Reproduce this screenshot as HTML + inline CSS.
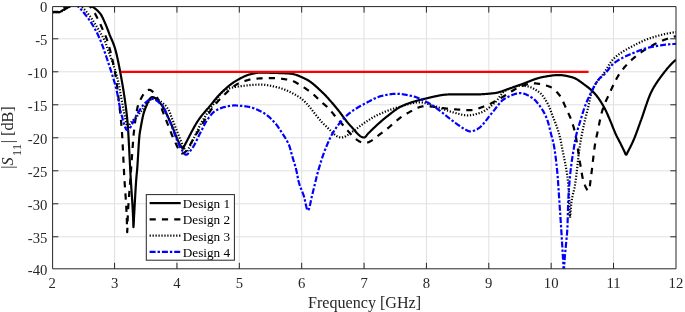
<!DOCTYPE html>
<html><head><meta charset="utf-8"><title>S11</title>
<style>html,body{margin:0;padding:0;background:#fff}body{width:685px;height:312px;overflow:hidden}</style></head>
<body>
<svg width="685" height="312" viewBox="0 0 685 312" style="display:block">
<rect width="685" height="312" fill="#fff"/>
<path d="M114.57,6.6 V268.8 M176.94,6.6 V268.8 M239.31,6.6 V268.8 M301.68,6.6 V268.8 M364.05,6.6 V268.8 M426.42,6.6 V268.8 M488.79,6.6 V268.8 M551.16,6.6 V268.8 M613.53,6.6 V268.8 M52.6,38.79 H676.0 M52.6,71.79 H676.0 M52.6,104.79 H676.0 M52.6,137.79 H676.0 M52.6,170.79 H676.0 M52.6,203.79 H676.0 M52.6,236.79 H676.0" stroke="#e0e0e0" stroke-width="1" fill="none"/>
<defs><clipPath id="c"><rect x="52.6" y="6.6" width="623.4" height="262.2"/></clipPath></defs>
<g clip-path="url(#c)" fill="none" stroke-linejoin="round">
<path d="M52.60,12.17 L53.02,12.08 L53.43,12.01 L53.85,11.96 L54.26,11.91 L54.68,11.88 L55.10,11.86 L55.51,11.85 L55.93,11.85 L56.34,11.84 L56.34,11.84 L56.76,11.87 L57.17,11.95 L57.59,12.04 L58.01,12.14 L58.42,12.21 L58.83,12.24 L58.84,12.24 L59.25,12.19 L59.67,12.07 L60.09,11.89 L60.50,11.66 L60.92,11.39 L61.33,11.12 L61.75,10.84 L62.17,10.57 L62.57,10.34 L62.58,10.33 L63.00,10.11 L63.41,9.89 L63.83,9.66 L64.24,9.44 L64.66,9.21 L65.08,8.98 L65.49,8.75 L65.91,8.53 L66.31,8.30 L66.32,8.30 L66.74,8.07 L67.16,7.85 L67.57,7.62 L67.99,7.40 L68.40,7.17 L68.82,6.94 L69.24,6.72 L69.65,6.49 L70.06,6.27 L70.07,6.27 L70.48,6.03 L70.90,5.77 L71.31,5.51 L71.73,5.25 L72.15,4.99 L72.56,4.76 L72.98,4.55 L73.39,4.37 L73.80,4.24 L73.81,4.24 L74.23,4.13 L74.64,4.02 L75.06,3.91 L75.47,3.81 L75.89,3.71 L76.31,3.62 L76.72,3.52 L77.14,3.43 L77.55,3.35 L77.97,3.27 L78.38,3.19 L78.80,3.12 L79.22,3.05 L79.63,2.99 L80.05,2.93 L80.46,2.88 L80.88,2.83 L81.30,2.79 L81.71,2.75 L82.13,2.72 L82.54,2.70 L82.96,2.68 L83.37,2.67 L83.77,2.67 L83.79,2.67 L84.21,2.68 L84.62,2.73 L85.04,2.81 L85.45,2.91 L85.87,3.04 L86.29,3.19 L86.70,3.36 L87.12,3.55 L87.53,3.76 L87.95,3.98 L88.37,4.21 L88.78,4.45 L89.20,4.71 L89.61,4.97 L90.03,5.23 L90.44,5.50 L90.86,5.76 L91.28,6.03 L91.69,6.29 L92.11,6.55 L92.19,6.60 L92.52,6.81 L92.94,7.07 L93.36,7.34 L93.77,7.62 L94.19,7.91 L94.60,8.21 L95.02,8.51 L95.44,8.84 L95.85,9.17 L96.27,9.51 L96.68,9.87 L97.10,10.25 L97.51,10.63 L97.93,11.04 L98.35,11.46 L98.76,11.90 L99.18,12.36 L99.59,12.84 L100.01,13.33 L100.29,13.68 L100.43,13.85 L100.84,14.44 L101.26,15.11 L101.67,15.84 L102.09,16.62 L102.51,17.46 L102.92,18.33 L103.34,19.23 L103.75,20.16 L104.17,21.10 L104.58,22.04 L105.00,22.98 L105.15,23.32 L105.42,23.91 L105.83,24.89 L106.25,25.90 L106.66,26.94 L107.08,28.00 L107.50,29.08 L107.91,30.18 L108.33,31.27 L108.74,32.37 L109.16,33.45 L109.58,34.53 L109.70,34.85 L109.99,35.57 L110.41,36.58 L110.82,37.56 L111.24,38.52 L111.65,39.48 L112.07,40.45 L112.49,41.43 L112.90,42.44 L113.32,43.49 L113.73,44.58 L114.15,45.74 L114.57,46.98 L114.94,48.16 L114.98,48.29 L115.40,49.72 L115.81,51.24 L116.23,52.87 L116.65,54.59 L117.06,56.39 L117.48,58.27 L117.89,60.22 L118.31,62.23 L118.72,64.30 L119.14,66.41 L119.56,68.56 L119.97,70.74 L120.24,72.15 L120.39,72.94 L120.80,75.17 L121.22,77.43 L121.64,79.73 L122.05,82.07 L122.47,84.47 L122.88,86.94 L123.30,89.48 L123.72,92.10 L124.13,94.81 L124.55,97.61 L124.96,100.53 L125.38,103.56 L125.79,106.71 L126.21,109.99 L126.63,113.41 L126.78,114.76 L127.04,117.09 L127.46,121.44 L127.72,124.59 L127.87,126.63 L128.29,132.93 L128.71,140.14 L129.12,147.96 L129.54,156.12 L129.95,164.30 L130.37,172.22 L130.71,178.34 L130.78,179.58 L131.20,186.13 L131.62,192.20 L132.03,198.29 L132.45,204.87 L132.86,212.45 L133.14,218.33 L133.28,222.94 L133.45,227.24 L133.70,224.06 L133.95,218.33 L134.11,215.53 L134.53,207.98 L134.94,200.36 L135.36,192.97 L135.78,186.10 L136.19,180.04 L136.32,178.34 L136.61,175.20 L137.02,171.07 L137.13,169.82 L137.44,165.75 L137.85,159.24 L138.27,152.21 L138.69,145.36 L139.10,139.37 L139.50,135.08 L139.52,134.94 L139.93,132.00 L140.31,129.83 L140.35,129.62 L140.77,127.30 L141.18,125.00 L141.60,122.76 L142.01,120.59 L142.43,118.52 L142.85,116.59 L143.26,114.80 L143.68,113.19 L144.09,111.79 L144.43,110.82 L144.51,110.61 L144.92,109.51 L145.34,108.42 L145.76,107.35 L146.17,106.30 L146.59,105.28 L147.00,104.29 L147.42,103.34 L147.84,102.43 L148.25,101.58 L148.67,100.78 L149.08,100.04 L149.50,99.38 L149.92,98.78 L150.33,98.26 L150.75,97.83 L151.16,97.49 L151.58,97.24 L151.99,97.10 L152.34,97.06 L152.41,97.06 L152.83,97.09 L153.24,97.18 L153.66,97.31 L154.07,97.48 L154.49,97.69 L154.91,97.95 L155.32,98.23 L155.74,98.55 L156.15,98.90 L156.57,99.28 L156.99,99.68 L157.40,100.10 L157.82,100.54 L158.23,100.99 L158.65,101.45 L159.06,101.93 L159.48,102.41 L159.90,102.90 L160.31,103.39 L160.73,103.87 L161.07,104.27 L161.14,104.35 L161.56,104.87 L161.98,105.43 L162.39,106.04 L162.81,106.70 L163.22,107.39 L163.64,108.12 L164.06,108.88 L164.47,109.67 L164.89,110.48 L165.30,111.32 L165.72,112.17 L166.13,113.04 L166.55,113.92 L166.97,114.81 L167.38,115.70 L167.80,116.59 L168.21,117.47 L168.63,118.35 L169.05,119.22 L169.43,120.00 L169.46,120.08 L169.88,120.94 L170.29,121.85 L170.71,122.78 L171.13,123.74 L171.54,124.73 L171.96,125.74 L172.37,126.76 L172.79,127.80 L173.20,128.85 L173.62,129.91 L174.04,130.97 L174.45,132.03 L174.87,133.09 L175.28,134.15 L175.70,135.19 L176.12,136.23 L176.53,137.25 L176.95,138.25 L177.36,139.22 L177.78,140.17 L178.19,141.10 L178.61,141.99 L179.03,142.84 L179.44,143.66 L179.86,144.44 L180.27,145.16 L180.69,145.85 L181.11,146.47 L181.39,146.88 L181.52,147.05 L181.94,147.67 L182.35,148.20 L182.77,148.50 L182.89,148.52 L183.19,148.29 L183.60,147.45 L184.02,146.46 L184.14,146.22 L184.43,145.68 L184.85,144.90 L185.26,144.12 L185.68,143.33 L186.10,142.54 L186.51,141.74 L186.93,140.94 L187.34,140.13 L187.76,139.33 L188.18,138.52 L188.59,137.70 L189.01,136.89 L189.42,136.08 L189.84,135.27 L190.26,134.46 L190.67,133.65 L191.09,132.85 L191.50,132.05 L191.92,131.26 L192.33,130.47 L192.75,129.69 L193.17,128.91 L193.58,128.15 L194.00,127.39 L194.41,126.64 L194.83,125.90 L195.25,125.18 L195.66,124.46 L196.08,123.76 L196.49,123.07 L196.91,122.40 L197.33,121.74 L197.74,121.10 L198.16,120.47 L198.48,120.00 L198.57,119.86 L198.99,119.26 L199.40,118.68 L199.82,118.11 L200.24,117.55 L200.65,117.00 L201.07,116.46 L201.48,115.93 L201.90,115.41 L202.32,114.89 L202.73,114.38 L203.15,113.88 L203.56,113.39 L203.98,112.90 L204.40,112.41 L204.81,111.93 L205.23,111.44 L205.64,110.97 L206.06,110.49 L206.47,110.01 L206.89,109.54 L207.31,109.06 L207.72,108.58 L208.14,108.11 L208.55,107.62 L208.97,107.14 L209.39,106.65 L209.80,106.16 L210.01,105.91 L210.22,105.66 L210.63,105.15 L211.05,104.65 L211.47,104.13 L211.88,103.62 L212.30,103.11 L212.71,102.59 L213.13,102.07 L213.54,101.55 L213.96,101.04 L214.38,100.52 L214.79,100.01 L215.21,99.50 L215.62,99.00 L216.04,98.49 L216.46,98.00 L216.87,97.51 L217.29,97.02 L217.70,96.55 L218.12,96.08 L218.54,95.62 L218.95,95.17 L219.37,94.73 L219.78,94.30 L220.20,93.88 L220.29,93.78 L220.61,93.47 L221.03,93.06 L221.45,92.65 L221.86,92.25 L222.28,91.85 L222.69,91.45 L223.11,91.05 L223.53,90.66 L223.94,90.27 L224.36,89.88 L224.77,89.50 L225.19,89.12 L225.60,88.74 L226.02,88.36 L226.44,87.99 L226.85,87.63 L227.27,87.27 L227.68,86.91 L228.10,86.56 L228.52,86.21 L228.93,85.86 L229.35,85.52 L229.76,85.19 L230.18,84.86 L230.60,84.54 L231.01,84.22 L231.43,83.91 L231.84,83.60 L232.26,83.30 L232.67,83.01 L233.09,82.72 L233.51,82.44 L233.92,82.16 L234.34,81.89 L234.75,81.63 L235.17,81.38 L235.26,81.33 L235.59,81.13 L236.00,80.88 L236.42,80.63 L236.83,80.39 L237.25,80.14 L237.67,79.90 L238.08,79.66 L238.50,79.42 L238.91,79.18 L239.33,78.95 L239.74,78.72 L240.16,78.49 L240.58,78.26 L240.99,78.04 L241.41,77.82 L241.82,77.61 L242.24,77.39 L242.66,77.19 L243.07,76.98 L243.49,76.78 L243.90,76.59 L244.32,76.40 L244.74,76.21 L245.15,76.03 L245.57,75.86 L245.98,75.69 L246.40,75.52 L246.81,75.37 L247.23,75.21 L247.65,75.07 L248.06,74.93 L248.48,74.79 L248.89,74.67 L249.31,74.55 L249.73,74.44 L250.14,74.33 L250.22,74.31 L250.56,74.23 L250.97,74.13 L251.39,74.03 L251.81,73.93 L252.22,73.83 L252.64,73.73 L253.05,73.64 L253.47,73.54 L253.88,73.45 L254.30,73.36 L254.72,73.27 L255.13,73.19 L255.55,73.10 L255.96,73.03 L256.38,72.96 L256.80,72.89 L257.21,72.82 L257.63,72.77 L258.04,72.71 L258.46,72.67 L258.88,72.63 L259.29,72.60 L259.71,72.57 L260.12,72.55 L260.54,72.55 L260.82,72.54 L260.95,72.54 L261.37,72.54 L261.79,72.55 L262.20,72.55 L262.62,72.56 L263.03,72.56 L263.45,72.57 L263.87,72.58 L264.28,72.59 L264.70,72.60 L265.11,72.61 L265.53,72.63 L265.95,72.64 L266.36,72.65 L266.78,72.67 L267.19,72.68 L267.61,72.70 L268.02,72.71 L268.44,72.73 L268.86,72.74 L269.27,72.75 L269.69,72.77 L270.10,72.78 L270.52,72.80 L270.79,72.81 L270.94,72.81 L271.35,72.82 L271.77,72.84 L272.18,72.85 L272.60,72.86 L273.01,72.87 L273.43,72.88 L273.85,72.90 L274.26,72.91 L274.68,72.92 L275.09,72.93 L275.51,72.94 L275.93,72.95 L276.34,72.97 L276.76,72.98 L277.17,72.99 L277.59,73.00 L278.01,73.02 L278.42,73.03 L278.84,73.04 L279.25,73.06 L279.67,73.07 L280.08,73.08 L280.50,73.10 L280.92,73.11 L281.33,73.13 L281.75,73.14 L282.16,73.16 L282.58,73.18 L283.00,73.19 L283.41,73.21 L283.83,73.23 L284.24,73.25 L284.66,73.27 L285.08,73.29 L285.49,73.31 L285.91,73.33 L286.32,73.35 L286.74,73.38 L287.15,73.40 L287.57,73.43 L287.99,73.45 L288.40,73.48 L288.82,73.51 L289.23,73.54 L289.65,73.57 L289.99,73.59 L290.07,73.60 L290.48,73.64 L290.90,73.68 L291.31,73.74 L291.73,73.80 L292.15,73.87 L292.56,73.95 L292.98,74.03 L293.39,74.12 L293.81,74.22 L294.22,74.33 L294.64,74.44 L295.06,74.56 L295.47,74.69 L295.89,74.82 L296.30,74.96 L296.72,75.10 L297.14,75.25 L297.55,75.40 L297.97,75.56 L298.38,75.72 L298.80,75.88 L299.22,76.05 L299.63,76.23 L300.05,76.40 L300.46,76.58 L300.88,76.77 L301.29,76.95 L301.71,77.14 L302.13,77.34 L302.54,77.53 L302.96,77.72 L303.37,77.92 L303.79,78.12 L304.21,78.32 L304.62,78.52 L305.04,78.72 L305.45,78.93 L305.87,79.13 L306.07,79.23 L306.29,79.33 L306.70,79.55 L307.12,79.77 L307.53,80.00 L307.95,80.25 L308.36,80.50 L308.78,80.76 L309.20,81.03 L309.61,81.31 L310.03,81.60 L310.44,81.89 L310.86,82.20 L311.28,82.50 L311.69,82.82 L312.11,83.14 L312.52,83.47 L312.94,83.81 L313.36,84.15 L313.77,84.50 L314.19,84.85 L314.60,85.20 L315.02,85.56 L315.43,85.93 L315.85,86.30 L316.27,86.67 L316.68,87.04 L317.10,87.42 L317.51,87.80 L317.93,88.18 L318.35,88.57 L318.76,88.95 L319.18,89.34 L319.59,89.73 L320.01,90.12 L320.42,90.51 L320.84,90.90 L321.26,91.29 L321.67,91.68 L322.09,92.07 L322.10,92.08 L322.50,92.46 L322.92,92.86 L323.34,93.26 L323.75,93.67 L324.17,94.09 L324.58,94.51 L325.00,94.94 L325.42,95.37 L325.83,95.81 L326.25,96.25 L326.66,96.70 L327.08,97.15 L327.49,97.61 L327.91,98.06 L328.33,98.53 L328.74,98.99 L329.16,99.46 L329.57,99.94 L329.99,100.41 L330.41,100.89 L330.82,101.37 L331.24,101.85 L331.65,102.34 L332.07,102.83 L332.49,103.31 L332.90,103.80 L333.32,104.29 L333.73,104.79 L334.15,105.28 L334.56,105.77 L334.98,106.27 L335.40,106.76 L335.81,107.25 L336.23,107.75 L336.56,108.14 L336.64,108.24 L337.06,108.74 L337.48,109.25 L337.89,109.76 L338.31,110.29 L338.72,110.82 L339.14,111.36 L339.56,111.90 L339.97,112.45 L340.39,113.00 L340.80,113.56 L341.22,114.11 L341.63,114.68 L342.05,115.24 L342.47,115.80 L342.88,116.36 L343.30,116.92 L343.71,117.49 L344.13,118.04 L344.55,118.60 L344.96,119.15 L345.38,119.70 L345.79,120.24 L346.21,120.78 L346.63,121.31 L347.04,121.83 L347.46,122.35 L347.87,122.85 L348.29,123.35 L348.70,123.84 L349.12,124.32 L349.54,124.78 L349.95,125.24 L350.37,125.68 L350.59,125.90 L350.78,126.11 L351.20,126.55 L351.62,127.00 L352.03,127.46 L352.45,127.93 L352.86,128.40 L353.28,128.88 L353.70,129.37 L354.11,129.85 L354.53,130.34 L354.94,130.82 L355.36,131.30 L355.77,131.77 L356.19,132.24 L356.61,132.70 L357.02,133.14 L357.44,133.58 L357.85,134.00 L358.27,134.41 L358.69,134.79 L359.10,135.16 L359.52,135.51 L359.93,135.84 L360.35,136.14 L360.77,136.42 L361.18,136.67 L361.60,136.89 L362.01,137.08 L362.43,137.23 L362.84,137.36 L363.26,137.44 L363.68,137.49 L363.99,137.50 L364.09,137.50 L364.51,137.40 L364.92,137.17 L365.34,136.84 L365.76,136.43 L366.17,135.96 L366.59,135.45 L367.00,134.92 L367.42,134.39 L367.83,133.88 L368.25,133.41 L368.54,133.11 L368.67,132.99 L369.08,132.59 L369.50,132.19 L369.91,131.78 L370.33,131.38 L370.75,130.98 L371.16,130.57 L371.58,130.17 L371.99,129.76 L372.41,129.36 L372.83,128.96 L373.24,128.56 L373.66,128.16 L374.07,127.76 L374.49,127.37 L374.90,126.97 L375.32,126.58 L375.74,126.19 L376.15,125.81 L376.57,125.43 L376.77,125.25 L376.98,125.05 L377.40,124.67 L377.82,124.29 L378.23,123.92 L378.65,123.54 L379.06,123.17 L379.48,122.80 L379.90,122.42 L380.31,122.05 L380.73,121.69 L381.14,121.32 L381.56,120.96 L381.97,120.59 L382.39,120.23 L382.81,119.88 L383.22,119.53 L383.64,119.18 L384.05,118.83 L384.47,118.49 L384.89,118.15 L385.30,117.81 L385.72,117.48 L386.13,117.15 L386.18,117.12 L386.55,116.83 L386.97,116.50 L387.38,116.18 L387.80,115.85 L388.21,115.52 L388.63,115.19 L389.04,114.86 L389.46,114.53 L389.88,114.20 L390.29,113.87 L390.71,113.54 L391.12,113.21 L391.54,112.89 L391.96,112.57 L392.37,112.24 L392.79,111.92 L393.20,111.61 L393.62,111.29 L394.04,110.98 L394.45,110.68 L394.87,110.37 L395.28,110.07 L395.70,109.78 L396.11,109.49 L396.53,109.20 L396.95,108.92 L397.36,108.64 L397.78,108.38 L398.19,108.11 L398.61,107.85 L399.03,107.60 L399.44,107.36 L399.86,107.12 L400.27,106.89 L400.69,106.67 L401.11,106.46 L401.52,106.25 L401.94,106.06 L402.27,105.91 L402.35,105.87 L402.77,105.69 L403.18,105.50 L403.60,105.33 L404.02,105.15 L404.43,104.98 L404.85,104.80 L405.26,104.64 L405.68,104.47 L406.10,104.30 L406.51,104.14 L406.93,103.98 L407.34,103.82 L407.76,103.67 L408.18,103.52 L408.59,103.36 L409.01,103.21 L409.42,103.07 L409.84,102.92 L410.25,102.78 L410.67,102.64 L411.09,102.50 L411.50,102.36 L411.92,102.22 L412.33,102.09 L412.75,101.96 L413.17,101.83 L413.58,101.70 L414.00,101.57 L414.41,101.44 L414.83,101.32 L415.24,101.20 L415.66,101.08 L416.08,100.96 L416.49,100.84 L416.91,100.72 L417.32,100.61 L417.74,100.50 L418.16,100.38 L418.57,100.27 L418.99,100.16 L419.40,100.06 L419.82,99.95 L420.24,99.84 L420.65,99.74 L421.07,99.64 L421.48,99.53 L421.90,99.43 L422.31,99.33 L422.73,99.23 L423.15,99.14 L423.56,99.04 L423.98,98.94 L424.39,98.85 L424.77,98.76 L424.81,98.75 L425.23,98.66 L425.64,98.56 L426.06,98.47 L426.47,98.37 L426.89,98.27 L427.31,98.18 L427.72,98.08 L428.14,97.98 L428.55,97.88 L428.97,97.78 L429.38,97.68 L429.80,97.58 L430.22,97.48 L430.63,97.38 L431.05,97.29 L431.46,97.19 L431.88,97.09 L432.30,96.99 L432.71,96.89 L433.13,96.80 L433.54,96.70 L433.96,96.61 L434.38,96.51 L434.79,96.42 L435.21,96.33 L435.62,96.24 L436.04,96.15 L436.45,96.06 L436.87,95.97 L437.29,95.89 L437.70,95.80 L438.12,95.72 L438.53,95.64 L438.95,95.56 L439.37,95.49 L439.78,95.41 L440.20,95.34 L440.61,95.27 L441.03,95.20 L441.45,95.13 L441.86,95.07 L442.28,95.01 L442.69,94.95 L443.11,94.90 L443.52,94.84 L443.94,94.79 L444.36,94.75 L444.77,94.70 L445.19,94.66 L445.60,94.62 L446.02,94.59 L446.44,94.56 L446.85,94.53 L447.27,94.50 L447.68,94.48 L448.10,94.47 L448.52,94.45 L448.93,94.44 L449.35,94.44 L449.71,94.44 L449.76,94.44 L450.18,94.44 L450.59,94.44 L451.01,94.44 L451.43,94.44 L451.84,94.44 L452.26,94.44 L452.67,94.44 L453.09,94.44 L453.51,94.44 L453.92,94.44 L454.34,94.44 L454.75,94.44 L455.17,94.44 L455.59,94.44 L456.00,94.44 L456.42,94.44 L456.83,94.44 L457.25,94.44 L457.66,94.44 L458.08,94.44 L458.50,94.44 L458.91,94.44 L459.33,94.44 L459.74,94.44 L460.16,94.44 L460.58,94.44 L460.99,94.44 L461.41,94.44 L461.82,94.44 L462.24,94.44 L462.65,94.44 L463.07,94.44 L463.49,94.44 L463.90,94.44 L464.32,94.44 L464.73,94.44 L465.15,94.44 L465.57,94.44 L465.98,94.44 L466.40,94.44 L466.81,94.44 L467.23,94.44 L467.65,94.44 L468.06,94.44 L468.48,94.44 L468.89,94.44 L469.31,94.44 L469.72,94.44 L470.14,94.44 L470.56,94.44 L470.97,94.44 L471.39,94.44 L471.80,94.44 L472.22,94.44 L472.64,94.44 L473.05,94.44 L473.47,94.44 L473.88,94.44 L474.30,94.44 L474.64,94.44 L474.72,94.44 L475.13,94.44 L475.55,94.43 L475.96,94.43 L476.38,94.42 L476.79,94.42 L477.21,94.41 L477.63,94.40 L478.04,94.39 L478.46,94.38 L478.87,94.36 L479.29,94.35 L479.71,94.33 L480.12,94.32 L480.54,94.30 L480.95,94.28 L481.37,94.26 L481.79,94.24 L482.20,94.21 L482.62,94.19 L483.03,94.16 L483.45,94.14 L483.86,94.11 L484.28,94.08 L484.70,94.05 L485.11,94.02 L485.53,93.99 L485.94,93.96 L486.36,93.93 L486.78,93.89 L487.19,93.86 L487.61,93.82 L488.02,93.79 L488.44,93.75 L488.86,93.71 L489.27,93.68 L489.69,93.64 L490.10,93.60 L490.52,93.56 L490.93,93.51 L491.35,93.47 L491.77,93.43 L492.18,93.39 L492.60,93.34 L493.01,93.30 L493.43,93.25 L493.85,93.21 L494.26,93.16 L494.59,93.13 L494.68,93.12 L495.09,93.06 L495.51,93.00 L495.93,92.93 L496.34,92.86 L496.76,92.78 L497.17,92.69 L497.59,92.59 L498.00,92.49 L498.42,92.38 L498.84,92.27 L499.25,92.15 L499.67,92.03 L500.08,91.90 L500.50,91.77 L500.92,91.63 L501.33,91.49 L501.75,91.35 L502.16,91.20 L502.58,91.06 L503.00,90.91 L503.41,90.76 L503.83,90.60 L504.24,90.45 L504.66,90.30 L505.07,90.14 L505.49,89.99 L505.91,89.83 L506.32,89.68 L506.74,89.52 L507.15,89.37 L507.57,89.22 L507.99,89.07 L508.40,88.93 L508.82,88.78 L509.23,88.64 L509.55,88.54 L509.65,88.51 L510.06,88.37 L510.48,88.23 L510.90,88.09 L511.31,87.95 L511.73,87.81 L512.14,87.66 L512.56,87.52 L512.98,87.37 L513.39,87.23 L513.81,87.08 L514.22,86.93 L514.64,86.79 L515.06,86.64 L515.47,86.49 L515.89,86.34 L516.30,86.19 L516.72,86.04 L517.13,85.89 L517.55,85.75 L517.97,85.60 L518.38,85.45 L518.80,85.30 L519.21,85.15 L519.63,85.01 L520.05,84.86 L520.46,84.71 L520.77,84.60 L520.88,84.57 L521.29,84.42 L521.71,84.27 L522.13,84.12 L522.54,83.97 L522.96,83.81 L523.37,83.66 L523.79,83.50 L524.20,83.34 L524.62,83.18 L525.04,83.01 L525.45,82.85 L525.87,82.68 L526.28,82.52 L526.70,82.35 L527.12,82.19 L527.53,82.02 L527.95,81.85 L528.36,81.69 L528.78,81.52 L529.20,81.36 L529.61,81.19 L530.03,81.02 L530.44,80.86 L530.86,80.70 L531.27,80.53 L531.69,80.37 L532.11,80.21 L532.52,80.05 L532.94,79.90 L533.35,79.74 L533.77,79.59 L534.19,79.44 L534.60,79.29 L535.02,79.14 L535.43,79.00 L535.85,78.86 L536.27,78.72 L536.68,78.58 L537.10,78.45 L537.51,78.32 L537.93,78.20 L538.34,78.08 L538.76,77.96 L539.18,77.84 L539.59,77.73 L540.01,77.63 L540.42,77.52 L540.84,77.43 L541.26,77.33 L541.67,77.24 L542.09,77.16 L542.50,77.08 L542.59,77.07 L542.92,77.01 L543.34,76.93 L543.75,76.86 L544.17,76.78 L544.58,76.71 L545.00,76.63 L545.41,76.56 L545.83,76.48 L546.25,76.41 L546.66,76.34 L547.08,76.26 L547.49,76.19 L547.91,76.12 L548.33,76.05 L548.74,75.98 L549.16,75.92 L549.57,75.85 L549.99,75.79 L550.41,75.73 L550.82,75.67 L551.24,75.61 L551.65,75.55 L552.07,75.50 L552.48,75.45 L552.90,75.40 L553.32,75.35 L553.73,75.31 L554.15,75.27 L554.56,75.23 L554.98,75.20 L555.40,75.16 L555.81,75.14 L556.23,75.11 L556.64,75.09 L557.06,75.07 L557.47,75.05 L557.89,75.04 L558.31,75.04 L558.72,75.03 L558.80,75.03 L559.14,75.04 L559.55,75.04 L559.97,75.06 L560.39,75.08 L560.80,75.10 L561.22,75.13 L561.63,75.17 L562.05,75.21 L562.47,75.25 L562.88,75.31 L563.30,75.36 L563.71,75.42 L564.13,75.48 L564.54,75.55 L564.96,75.62 L565.38,75.70 L565.79,75.77 L566.21,75.86 L566.62,75.94 L567.04,76.03 L567.46,76.12 L567.87,76.21 L568.29,76.31 L568.70,76.41 L569.12,76.51 L569.54,76.61 L569.95,76.72 L570.37,76.82 L570.78,76.93 L571.20,77.04 L571.61,77.15 L572.03,77.26 L572.45,77.38 L572.52,77.39 L572.86,77.49 L573.28,77.63 L573.69,77.78 L574.11,77.94 L574.53,78.11 L574.94,78.30 L575.36,78.50 L575.77,78.72 L576.19,78.94 L576.61,79.17 L577.02,79.42 L577.44,79.67 L577.85,79.93 L578.27,80.20 L578.68,80.48 L579.10,80.76 L579.52,81.05 L579.93,81.34 L580.35,81.64 L580.76,81.94 L581.18,82.24 L581.60,82.55 L582.01,82.86 L582.43,83.17 L582.84,83.48 L583.26,83.79 L583.68,84.10 L584.09,84.41 L584.51,84.71 L584.92,85.02 L584.98,85.06 L585.34,85.32 L585.75,85.63 L586.17,85.94 L586.59,86.25 L587.00,86.56 L587.42,86.88 L587.83,87.20 L588.25,87.53 L588.67,87.87 L589.08,88.20 L589.50,88.55 L589.91,88.90 L590.33,89.26 L590.75,89.62 L591.16,89.99 L591.58,90.37 L591.99,90.76 L592.41,91.15 L592.82,91.56 L593.24,91.97 L593.66,92.39 L594.07,92.82 L594.49,93.27 L594.90,93.72 L594.96,93.78 L595.32,94.19 L595.74,94.67 L596.15,95.17 L596.57,95.68 L596.98,96.21 L597.40,96.76 L597.82,97.32 L598.23,97.89 L598.65,98.48 L599.06,99.08 L599.48,99.70 L599.89,100.33 L600.31,100.97 L600.73,101.62 L601.14,102.29 L601.56,102.96 L601.97,103.65 L602.39,104.35 L602.81,105.06 L603.22,105.78 L603.64,106.52 L604.05,107.26 L604.47,108.01 L604.88,108.77 L604.93,108.86 L605.30,109.56 L605.72,110.38 L606.13,111.25 L606.55,112.15 L606.96,113.08 L607.38,114.03 L607.80,114.99 L608.21,115.97 L608.63,116.96 L609.04,117.94 L609.46,118.93 L609.88,119.90 L609.92,120.00 L610.29,120.87 L610.71,121.87 L611.12,122.89 L611.54,123.92 L611.95,124.96 L612.37,126.01 L612.79,127.06 L613.20,128.11 L613.62,129.15 L614.03,130.18 L614.45,131.19 L614.87,132.18 L615.28,133.15 L615.70,134.09 L616.11,134.99 L616.15,135.08 L616.53,135.86 L616.95,136.70 L617.36,137.50 L617.78,138.29 L618.19,139.07 L618.61,139.84 L619.02,140.62 L619.44,141.41 L619.86,142.21 L619.89,142.29 L620.27,143.04 L620.69,143.88 L621.10,144.72 L621.52,145.57 L621.94,146.43 L622.35,147.28 L622.77,148.14 L623.18,148.98 L623.60,149.83 L624.02,150.66 L624.26,151.14 L624.43,151.51 L624.85,152.53 L625.26,153.57 L625.68,154.38 L626.09,154.74 L626.13,154.74 L626.51,154.50 L626.93,153.82 L627.34,152.91 L627.76,151.95 L628.00,151.47 L628.17,151.14 L628.59,150.36 L629.01,149.57 L629.42,148.77 L629.84,147.96 L630.25,147.14 L630.67,146.31 L631.09,145.46 L631.50,144.60 L631.92,143.73 L632.33,142.84 L632.75,141.93 L633.16,141.01 L633.58,140.06 L633.61,139.99 L634.00,139.09 L634.41,138.09 L634.83,137.06 L635.24,136.01 L635.66,134.93 L636.08,133.83 L636.49,132.72 L636.91,131.59 L637.32,130.45 L637.74,129.30 L638.16,128.15 L638.57,126.99 L638.99,125.82 L639.40,124.66 L639.82,123.50 L640.23,122.35 L640.65,121.20 L641.07,120.06 L641.09,120.00 L641.48,118.92 L641.90,117.76 L642.31,116.57 L642.73,115.37 L643.15,114.15 L643.56,112.92 L643.98,111.68 L644.39,110.43 L644.81,109.19 L645.23,107.94 L645.64,106.70 L646.06,105.47 L646.47,104.25 L646.89,103.04 L647.30,101.86 L647.72,100.69 L648.14,99.55 L648.55,98.43 L648.97,97.35 L649.38,96.30 L649.80,95.28 L650.22,94.31 L650.63,93.39 L651.05,92.50 L651.06,92.47 L651.46,91.66 L651.88,90.84 L652.29,90.04 L652.71,89.27 L653.13,88.51 L653.54,87.77 L653.96,87.05 L654.37,86.35 L654.79,85.66 L655.21,84.99 L655.62,84.33 L656.04,83.68 L656.45,83.05 L656.87,82.43 L657.29,81.82 L657.70,81.21 L658.12,80.62 L658.53,80.03 L658.54,80.02 L658.95,79.45 L659.36,78.87 L659.78,78.29 L660.20,77.72 L660.61,77.15 L661.03,76.58 L661.44,76.02 L661.86,75.46 L662.28,74.90 L662.69,74.35 L663.11,73.80 L663.52,73.26 L663.94,72.72 L664.36,72.18 L664.77,71.65 L665.19,71.12 L665.60,70.60 L666.02,70.09 L666.43,69.58 L666.85,69.07 L667.27,68.58 L667.68,68.08 L668.10,67.60 L668.51,67.12 L668.93,66.64 L669.35,66.17 L669.76,65.71 L670.18,65.26 L670.59,64.81 L671.01,64.37 L671.43,63.94 L671.84,63.51 L672.26,63.09 L672.67,62.68 L673.09,62.28 L673.50,61.88 L673.92,61.50 L674.34,61.12 L674.75,60.75 L675.17,60.39 L675.58,60.04 L676.00,59.70" stroke="#000" stroke-width="2.2"/>
<path d="M52.60,12.17 L53.02,12.17 L53.43,12.17 L53.85,12.17 L54.26,12.17 L54.68,12.17 L55.10,12.17 L55.51,12.17 L55.93,12.17 L56.34,12.17 L56.76,12.17 L56.96,12.17 L57.17,12.16 L57.59,12.06 L58.01,11.87 L58.42,11.62 L58.84,11.31 L59.25,10.96 L59.67,10.59 L60.09,10.22 L60.50,9.85 L60.92,9.52 L61.33,9.22 L61.33,9.22 L61.75,8.95 L62.17,8.68 L62.58,8.41 L63.00,8.14 L63.41,7.87 L63.83,7.61 L64.24,7.35 L64.66,7.09 L65.08,6.83 L65.49,6.58 L65.91,6.33 L66.00,6.27 L66.32,6.08 L66.74,5.81 L67.16,5.52 L67.57,5.23 L67.99,4.94 L68.40,4.66 L68.82,4.39 L69.24,4.13 L69.65,3.90 L70.07,3.70 L70.48,3.53 L70.90,3.40 L71.30,3.32 L71.31,3.32 L71.73,3.27 L72.15,3.21 L72.56,3.16 L72.98,3.12 L73.39,3.07 L73.81,3.03 L74.23,2.99 L74.64,2.95 L75.06,2.91 L75.47,2.88 L75.89,2.84 L76.31,2.82 L76.72,2.79 L77.14,2.76 L77.55,2.74 L77.97,2.72 L78.38,2.71 L78.80,2.69 L79.22,2.68 L79.63,2.68 L80.05,2.67 L80.46,2.67 L80.65,2.67 L80.88,2.67 L81.30,2.69 L81.71,2.73 L82.13,2.80 L82.54,2.88 L82.96,2.98 L83.37,3.09 L83.79,3.23 L84.21,3.37 L84.62,3.54 L85.04,3.71 L85.45,3.90 L85.87,4.10 L86.29,4.32 L86.70,4.54 L87.12,4.77 L87.53,5.02 L87.95,5.27 L88.37,5.53 L88.78,5.79 L89.20,6.06 L89.61,6.34 L90.00,6.60 L90.03,6.62 L90.44,6.94 L90.86,7.32 L91.28,7.76 L91.69,8.25 L92.11,8.79 L92.52,9.38 L92.94,10.01 L93.36,10.67 L93.77,11.37 L94.19,12.09 L94.60,12.83 L95.02,13.59 L95.44,14.37 L95.85,15.15 L96.27,15.94 L96.68,16.73 L97.10,17.52 L97.51,18.29 L97.61,18.46 L97.93,19.07 L98.35,19.88 L98.76,20.72 L99.18,21.60 L99.59,22.50 L100.01,23.42 L100.43,24.35 L100.84,25.30 L101.26,26.26 L101.67,27.22 L102.09,28.18 L102.51,29.14 L102.91,30.07 L102.92,30.10 L103.34,31.03 L103.75,31.95 L104.17,32.86 L104.58,33.77 L105.00,34.71 L105.42,35.67 L105.83,36.68 L106.25,37.75 L106.66,38.88 L106.84,39.38 L107.08,40.09 L107.50,41.34 L107.91,42.63 L108.33,43.96 L108.74,45.34 L109.16,46.77 L109.58,48.24 L109.99,49.76 L110.41,51.33 L110.82,52.95 L111.24,54.63 L111.65,56.36 L112.07,58.15 L112.49,59.99 L112.90,61.90 L113.32,63.87 L113.73,65.90 L114.15,67.99 L114.57,70.15 L114.94,72.15 L114.98,72.38 L115.40,74.77 L115.81,77.38 L116.23,80.18 L116.65,83.16 L117.06,86.29 L117.48,89.55 L117.89,92.92 L118.31,96.39 L118.72,99.92 L119.14,103.51 L119.30,104.92 L119.56,107.11 L119.97,110.73 L120.39,114.48 L120.80,118.49 L121.22,122.88 L121.64,127.77 L121.80,129.83 L122.05,133.48 L122.47,140.60 L122.88,148.74 L123.30,157.38 L123.72,166.01 L124.13,174.14 L124.29,177.03 L124.55,181.27 L124.96,187.43 L125.38,193.19 L125.79,199.15 L126.21,205.91 L126.63,214.07 L126.78,217.67 L127.04,227.83 L127.22,232.09 L127.46,226.66 L127.72,217.67 L127.87,214.55 L128.29,207.06 L128.71,200.66 L129.12,195.02 L129.54,189.78 L129.95,184.63 L130.37,179.20 L130.53,177.03 L130.78,173.33 L131.20,167.42 L131.62,161.56 L132.03,155.77 L132.40,150.81 L132.45,150.08 L132.86,144.12 L133.28,138.40 L133.64,134.42 L133.70,133.93 L134.11,130.25 L134.53,126.73 L134.94,123.37 L135.36,120.19 L135.78,117.22 L136.19,114.47 L136.61,111.95 L137.02,109.68 L137.44,107.69 L137.85,105.98 L138.27,104.57 L138.63,103.61 L138.69,103.48 L139.10,102.53 L139.52,101.60 L139.93,100.70 L140.35,99.83 L140.77,98.99 L141.18,98.18 L141.60,97.40 L142.01,96.65 L142.43,95.93 L142.85,95.25 L143.26,94.61 L143.68,94.00 L144.09,93.42 L144.51,92.89 L144.92,92.40 L145.34,91.94 L145.76,91.53 L146.17,91.16 L146.59,90.83 L147.00,90.55 L147.42,90.32 L147.84,90.13 L148.25,89.99 L148.67,89.89 L149.08,89.85 L149.23,89.85 L149.50,89.86 L149.92,89.94 L150.33,90.08 L150.75,90.27 L151.16,90.51 L151.58,90.79 L151.99,91.11 L152.41,91.45 L152.83,91.82 L153.24,92.20 L153.66,92.59 L154.07,92.99 L154.21,93.13 L154.49,93.41 L154.91,93.89 L155.32,94.44 L155.74,95.06 L156.15,95.74 L156.57,96.48 L156.99,97.27 L157.40,98.11 L157.82,98.99 L158.23,99.92 L158.65,100.88 L159.06,101.88 L159.48,102.90 L159.90,103.95 L160.31,105.02 L160.73,106.10 L161.14,107.20 L161.56,108.30 L161.98,109.41 L162.39,110.51 L162.81,111.61 L163.22,112.71 L163.64,113.79 L164.06,114.85 L164.47,115.89 L164.81,116.72 L164.89,116.91 L165.30,117.93 L165.72,118.99 L166.13,120.07 L166.55,121.16 L166.97,122.26 L167.38,123.37 L167.80,124.48 L168.21,125.59 L168.63,126.68 L169.05,127.75 L169.46,128.80 L169.61,129.18 L169.88,129.84 L170.29,130.87 L170.71,131.92 L171.13,132.96 L171.54,133.99 L171.96,135.01 L172.37,136.02 L172.79,137.00 L173.20,137.96 L173.62,138.88 L174.04,139.76 L174.45,140.61 L174.47,140.65 L174.87,141.44 L175.28,142.31 L175.70,143.21 L176.12,144.12 L176.53,145.04 L176.95,145.96 L177.36,146.86 L177.78,147.75 L178.19,148.60 L178.61,149.42 L179.03,150.18 L179.44,150.89 L179.86,151.53 L180.27,152.10 L180.69,152.57 L181.11,152.95 L181.52,153.23 L181.94,153.39 L182.27,153.43 L182.35,153.43 L182.77,153.38 L183.19,153.27 L183.60,153.10 L184.02,152.87 L184.43,152.59 L184.85,152.25 L185.26,151.86 L185.68,151.43 L186.10,150.95 L186.51,150.44 L186.93,149.89 L187.34,149.30 L187.76,148.68 L188.18,148.03 L188.59,147.36 L189.01,146.66 L189.42,145.95 L189.84,145.22 L190.26,144.47 L190.67,143.72 L191.09,142.96 L191.50,142.19 L191.92,141.42 L192.33,140.65 L192.75,139.89 L193.17,139.13 L193.58,138.38 L194.00,137.65 L194.41,136.93 L194.83,136.23 L195.25,135.56 L195.66,134.91 L195.98,134.42 L196.08,134.28 L196.49,133.66 L196.91,133.03 L197.33,132.38 L197.74,131.73 L198.16,131.08 L198.57,130.41 L198.99,129.74 L199.40,129.06 L199.82,128.38 L200.24,127.69 L200.65,127.00 L201.07,126.30 L201.48,125.60 L201.90,124.90 L202.32,124.20 L202.73,123.49 L203.15,122.78 L203.56,122.08 L203.98,121.37 L204.40,120.67 L204.81,119.96 L205.23,119.26 L205.64,118.56 L206.06,117.87 L206.47,117.18 L206.89,116.49 L207.31,115.81 L207.72,115.13 L208.14,114.46 L208.55,113.80 L208.97,113.15 L209.39,112.50 L209.80,111.86 L210.22,111.23 L210.63,110.61 L211.05,110.00 L211.47,109.40 L211.88,108.82 L212.30,108.24 L212.71,107.68 L212.81,107.55 L213.13,107.13 L213.54,106.59 L213.96,106.05 L214.38,105.51 L214.79,104.99 L215.21,104.47 L215.62,103.96 L216.04,103.45 L216.46,102.95 L216.87,102.46 L217.29,101.98 L217.70,101.51 L218.12,101.04 L218.54,100.59 L218.95,100.14 L219.37,99.70 L219.78,99.28 L220.20,98.86 L220.29,98.76 L220.61,98.45 L221.03,98.04 L221.45,97.63 L221.86,97.21 L222.28,96.80 L222.69,96.39 L223.11,95.98 L223.53,95.57 L223.94,95.16 L224.36,94.75 L224.77,94.34 L225.19,93.93 L225.60,93.53 L226.02,93.13 L226.44,92.73 L226.85,92.33 L227.27,91.94 L227.68,91.55 L228.10,91.16 L228.52,90.78 L228.93,90.40 L229.35,90.02 L229.76,89.65 L230.18,89.29 L230.60,88.93 L231.01,88.57 L231.43,88.22 L231.84,87.88 L232.26,87.54 L232.67,87.21 L233.09,86.89 L233.51,86.57 L233.92,86.26 L234.34,85.96 L234.75,85.67 L235.17,85.38 L235.59,85.10 L236.00,84.83 L236.42,84.57 L236.83,84.32 L237.25,84.08 L237.67,83.85 L238.08,83.63 L238.50,83.41 L238.91,83.21 L239.33,83.02 L239.74,82.84 L240.16,82.67 L240.24,82.64 L240.58,82.51 L240.99,82.35 L241.41,82.19 L241.82,82.04 L242.24,81.88 L242.66,81.73 L243.07,81.58 L243.49,81.43 L243.90,81.29 L244.32,81.14 L244.74,81.00 L245.15,80.87 L245.57,80.73 L245.98,80.60 L246.40,80.47 L246.81,80.35 L247.23,80.22 L247.65,80.11 L248.06,79.99 L248.48,79.88 L248.89,79.77 L249.31,79.67 L249.73,79.57 L250.14,79.47 L250.56,79.38 L250.97,79.30 L251.39,79.22 L251.81,79.14 L252.22,79.07 L252.64,79.00 L253.05,78.94 L253.47,78.88 L253.88,78.83 L254.30,78.78 L254.72,78.74 L255.13,78.71 L255.20,78.70 L255.55,78.68 L255.96,78.65 L256.38,78.62 L256.80,78.59 L257.21,78.56 L257.63,78.54 L258.04,78.51 L258.46,78.48 L258.88,78.46 L259.29,78.43 L259.71,78.41 L260.12,78.38 L260.54,78.36 L260.95,78.34 L261.37,78.31 L261.79,78.29 L262.20,78.27 L262.62,78.25 L263.03,78.23 L263.45,78.22 L263.87,78.20 L264.28,78.18 L264.70,78.17 L265.11,78.15 L265.53,78.14 L265.95,78.12 L266.36,78.11 L266.78,78.10 L267.19,78.09 L267.61,78.08 L268.02,78.07 L268.44,78.07 L268.86,78.06 L269.27,78.06 L269.69,78.05 L270.10,78.05 L270.52,78.05 L270.79,78.05 L270.94,78.05 L271.35,78.05 L271.77,78.06 L272.18,78.06 L272.60,78.07 L273.01,78.08 L273.43,78.10 L273.85,78.11 L274.26,78.13 L274.68,78.15 L275.09,78.17 L275.51,78.20 L275.93,78.22 L276.34,78.25 L276.76,78.28 L277.17,78.31 L277.59,78.35 L278.01,78.38 L278.42,78.42 L278.84,78.46 L279.25,78.50 L279.67,78.54 L280.08,78.59 L280.50,78.63 L280.92,78.68 L281.33,78.73 L281.75,78.78 L282.16,78.83 L282.58,78.89 L283.00,78.94 L283.41,79.00 L283.83,79.06 L284.24,79.12 L284.66,79.18 L285.08,79.25 L285.49,79.31 L285.91,79.38 L286.32,79.44 L286.74,79.51 L287.15,79.58 L287.57,79.65 L287.99,79.72 L288.40,79.79 L288.82,79.87 L289.23,79.94 L289.65,80.02 L289.99,80.08 L290.07,80.10 L290.48,80.18 L290.90,80.29 L291.31,80.41 L291.73,80.54 L292.15,80.69 L292.56,80.85 L292.98,81.02 L293.39,81.21 L293.81,81.40 L294.22,81.60 L294.64,81.82 L295.06,82.04 L295.47,82.26 L295.89,82.50 L296.30,82.74 L296.72,82.98 L297.14,83.23 L297.55,83.48 L297.97,83.74 L298.38,83.99 L298.80,84.25 L299.22,84.51 L299.63,84.76 L300.05,85.02 L300.46,85.27 L300.88,85.52 L301.21,85.72 L301.29,85.77 L301.71,86.02 L302.13,86.27 L302.54,86.52 L302.96,86.78 L303.37,87.05 L303.79,87.32 L304.21,87.59 L304.62,87.87 L305.04,88.15 L305.45,88.43 L305.87,88.72 L306.29,89.01 L306.70,89.30 L307.12,89.60 L307.53,89.90 L307.95,90.21 L308.36,90.51 L308.78,90.82 L309.20,91.14 L309.61,91.45 L310.03,91.77 L310.44,92.09 L310.86,92.42 L311.28,92.74 L311.69,93.07 L312.11,93.40 L312.50,93.72 L312.52,93.74 L312.94,94.08 L313.36,94.43 L313.77,94.78 L314.19,95.15 L314.60,95.52 L315.02,95.89 L315.43,96.27 L315.85,96.66 L316.27,97.05 L316.68,97.44 L317.10,97.84 L317.51,98.24 L317.93,98.64 L318.35,99.04 L318.76,99.44 L319.18,99.84 L319.59,100.23 L320.01,100.63 L320.42,101.02 L320.84,101.41 L321.26,101.80 L321.67,102.18 L322.09,102.56 L322.10,102.57 L322.50,102.93 L322.92,103.29 L323.34,103.65 L323.75,104.00 L324.17,104.35 L324.58,104.69 L325.00,105.04 L325.42,105.39 L325.83,105.74 L326.25,106.10 L326.66,106.46 L327.08,106.84 L327.49,107.22 L327.91,107.61 L328.33,108.01 L328.52,108.20 L328.74,108.43 L329.16,108.87 L329.57,109.33 L329.99,109.81 L330.41,110.30 L330.82,110.80 L331.24,111.31 L331.65,111.83 L332.07,112.35 L332.49,112.88 L332.90,113.41 L333.32,113.93 L333.73,114.45 L334.15,114.97 L334.56,115.47 L334.98,115.97 L335.40,116.45 L335.81,116.91 L336.23,117.36 L336.25,117.38 L336.64,117.80 L337.06,118.24 L337.48,118.69 L337.89,119.15 L338.31,119.61 L338.72,120.08 L339.14,120.56 L339.56,121.03 L339.97,121.51 L340.39,122.00 L340.80,122.48 L341.22,122.97 L341.63,123.47 L342.05,123.96 L342.47,124.46 L342.88,124.96 L343.30,125.45 L343.71,125.95 L344.13,126.45 L344.55,126.95 L344.96,127.45 L345.38,127.94 L345.79,128.44 L346.21,128.93 L346.63,129.42 L347.04,129.91 L347.46,130.40 L347.87,130.88 L348.29,131.36 L348.70,131.83 L349.12,132.30 L349.54,132.77 L349.95,133.23 L350.37,133.68 L350.78,134.13 L351.20,134.57 L351.62,135.00 L352.03,135.43 L352.45,135.85 L352.86,136.26 L353.28,136.66 L353.70,137.06 L354.11,137.44 L354.53,137.82 L354.94,138.18 L355.36,138.53 L355.77,138.88 L356.19,139.21 L356.61,139.53 L357.02,139.84 L357.44,140.14 L357.85,140.42 L358.27,140.69 L358.69,140.95 L359.10,141.20 L359.52,141.43 L359.93,141.64 L360.35,141.84 L360.77,142.03 L361.18,142.20 L361.60,142.35 L362.01,142.49 L362.43,142.60 L362.84,142.71 L363.26,142.79 L363.68,142.86 L364.09,142.91 L364.51,142.93 L364.92,142.94 L364.92,142.94 L365.34,142.93 L365.76,142.90 L366.17,142.85 L366.59,142.77 L367.00,142.68 L367.42,142.57 L367.83,142.44 L368.25,142.29 L368.67,142.13 L369.08,141.95 L369.50,141.76 L369.91,141.55 L370.33,141.33 L370.75,141.10 L371.16,140.85 L371.58,140.60 L371.99,140.33 L372.41,140.05 L372.83,139.77 L373.24,139.48 L373.66,139.18 L374.07,138.87 L374.49,138.55 L374.90,138.24 L375.32,137.91 L375.74,137.58 L376.15,137.25 L376.57,136.92 L376.98,136.59 L377.40,136.25 L377.82,135.92 L378.23,135.59 L378.65,135.25 L379.06,134.92 L379.48,134.60 L379.90,134.27 L380.31,133.95 L380.73,133.64 L381.14,133.33 L381.56,133.03 L381.97,132.73 L382.38,132.46 L382.39,132.45 L382.81,132.16 L383.22,131.87 L383.64,131.57 L384.05,131.27 L384.47,130.95 L384.89,130.64 L385.30,130.32 L385.72,129.99 L386.13,129.66 L386.55,129.32 L386.97,128.98 L387.38,128.64 L387.80,128.29 L388.21,127.94 L388.63,127.59 L389.04,127.23 L389.46,126.87 L389.88,126.51 L390.29,126.15 L390.71,125.79 L391.12,125.42 L391.54,125.06 L391.96,124.69 L392.37,124.33 L392.79,123.96 L393.20,123.60 L393.62,123.23 L394.04,122.87 L394.45,122.51 L394.87,122.15 L395.28,121.79 L395.70,121.43 L396.11,121.08 L396.53,120.73 L396.95,120.38 L397.36,120.03 L397.78,119.69 L398.19,119.35 L398.61,119.02 L399.03,118.69 L399.44,118.37 L399.86,118.05 L400.27,117.74 L400.69,117.43 L401.11,117.13 L401.52,116.84 L401.94,116.55 L402.35,116.27 L402.77,115.99 L403.18,115.73 L403.60,115.47 L404.02,115.22 L404.43,114.98 L404.82,114.76 L404.85,114.74 L405.26,114.51 L405.68,114.28 L406.10,114.04 L406.51,113.80 L406.93,113.56 L407.34,113.32 L407.76,113.08 L408.18,112.84 L408.59,112.59 L409.01,112.35 L409.42,112.11 L409.84,111.86 L410.25,111.62 L410.67,111.38 L411.09,111.14 L411.50,110.90 L411.92,110.67 L412.33,110.43 L412.75,110.20 L413.17,109.98 L413.58,109.75 L414.00,109.53 L414.41,109.32 L414.83,109.11 L415.24,108.90 L415.66,108.70 L416.08,108.50 L416.49,108.31 L416.91,108.13 L417.32,107.95 L417.74,107.78 L418.16,107.62 L418.57,107.46 L418.99,107.31 L419.40,107.17 L419.82,107.04 L420.24,106.92 L420.65,106.80 L421.07,106.70 L421.48,106.60 L421.90,106.52 L422.31,106.45 L422.73,106.38 L423.15,106.33 L423.56,106.29 L423.98,106.26 L424.39,106.24 L424.77,106.24 L424.81,106.24 L425.23,106.24 L425.64,106.24 L426.06,106.25 L426.47,106.26 L426.89,106.28 L427.31,106.29 L427.72,106.31 L428.14,106.33 L428.55,106.36 L428.97,106.39 L429.38,106.42 L429.80,106.45 L430.22,106.48 L430.63,106.52 L431.05,106.56 L431.46,106.60 L431.88,106.64 L432.30,106.68 L432.71,106.73 L433.13,106.77 L433.54,106.82 L433.96,106.87 L434.38,106.92 L434.79,106.97 L435.21,107.03 L435.62,107.08 L436.04,107.13 L436.45,107.19 L436.87,107.25 L437.29,107.30 L437.70,107.36 L438.12,107.42 L438.53,107.48 L438.95,107.54 L439.37,107.60 L439.78,107.65 L440.20,107.71 L440.61,107.77 L441.03,107.83 L441.45,107.89 L441.86,107.95 L442.28,108.00 L442.69,108.06 L443.11,108.12 L443.52,108.17 L443.94,108.23 L444.36,108.28 L444.77,108.34 L445.19,108.39 L445.60,108.44 L446.02,108.49 L446.44,108.54 L446.85,108.58 L447.27,108.63 L447.68,108.67 L448.10,108.71 L448.52,108.75 L448.93,108.79 L449.35,108.83 L449.71,108.86 L449.76,108.86 L450.18,108.90 L450.59,108.93 L451.01,108.97 L451.43,109.00 L451.84,109.04 L452.26,109.07 L452.67,109.11 L453.09,109.15 L453.51,109.18 L453.92,109.22 L454.34,109.26 L454.75,109.29 L455.17,109.33 L455.59,109.37 L456.00,109.40 L456.42,109.44 L456.83,109.48 L457.25,109.51 L457.66,109.55 L458.08,109.58 L458.50,109.62 L458.91,109.65 L459.33,109.69 L459.74,109.72 L460.16,109.75 L460.58,109.78 L460.99,109.81 L461.41,109.84 L461.82,109.87 L462.24,109.90 L462.65,109.93 L463.07,109.95 L463.49,109.98 L463.90,110.00 L464.32,110.02 L464.73,110.04 L465.15,110.06 L465.57,110.08 L465.98,110.10 L466.40,110.11 L466.81,110.12 L467.23,110.14 L467.65,110.15 L468.06,110.15 L468.48,110.16 L468.89,110.17 L469.31,110.17 L469.65,110.17 L469.72,110.17 L470.14,110.16 L470.56,110.15 L470.97,110.12 L471.39,110.08 L471.80,110.04 L472.22,109.99 L472.64,109.93 L473.05,109.86 L473.47,109.78 L473.88,109.70 L474.30,109.61 L474.72,109.51 L475.13,109.41 L475.55,109.30 L475.96,109.19 L476.38,109.07 L476.79,108.95 L477.21,108.82 L477.63,108.69 L478.04,108.56 L478.46,108.42 L478.87,108.28 L479.29,108.14 L479.71,107.99 L480.12,107.85 L480.54,107.70 L480.95,107.55 L481.37,107.40 L481.79,107.25 L482.20,107.10 L482.62,106.94 L483.03,106.79 L483.45,106.65 L483.86,106.50 L484.28,106.35 L484.62,106.24 L484.70,106.21 L485.11,106.06 L485.53,105.91 L485.94,105.75 L486.36,105.58 L486.78,105.41 L487.19,105.24 L487.61,105.05 L488.02,104.87 L488.44,104.68 L488.86,104.48 L489.27,104.29 L489.69,104.08 L490.10,103.88 L490.52,103.67 L490.93,103.46 L491.35,103.24 L491.77,103.03 L492.18,102.81 L492.60,102.58 L493.01,102.36 L493.43,102.14 L493.85,101.91 L494.26,101.68 L494.68,101.45 L495.09,101.22 L495.51,100.99 L495.93,100.76 L496.34,100.53 L496.76,100.30 L497.17,100.07 L497.59,99.84 L498.00,99.61 L498.42,99.39 L498.84,99.16 L499.25,98.94 L499.58,98.76 L499.67,98.72 L500.08,98.49 L500.50,98.26 L500.92,98.03 L501.33,97.79 L501.75,97.55 L502.16,97.30 L502.58,97.05 L503.00,96.80 L503.41,96.55 L503.83,96.29 L504.24,96.03 L504.66,95.77 L505.07,95.50 L505.49,95.24 L505.91,94.97 L506.32,94.71 L506.74,94.44 L507.15,94.17 L507.57,93.90 L507.99,93.63 L508.40,93.36 L508.82,93.09 L509.23,92.82 L509.65,92.55 L510.06,92.29 L510.48,92.02 L510.90,91.76 L511.31,91.49 L511.73,91.23 L512.14,90.98 L512.56,90.72 L512.98,90.47 L513.39,90.22 L513.81,89.97 L514.22,89.73 L514.64,89.49 L515.06,89.26 L515.47,89.03 L515.89,88.80 L516.30,88.58 L516.72,88.36 L517.13,88.15 L517.55,87.95 L517.97,87.75 L518.38,87.55 L518.80,87.37 L519.21,87.19 L519.63,87.01 L520.05,86.85 L520.46,86.69 L520.77,86.57 L520.88,86.53 L521.29,86.38 L521.71,86.23 L522.13,86.07 L522.54,85.91 L522.96,85.75 L523.37,85.59 L523.79,85.44 L524.20,85.28 L524.62,85.12 L525.04,84.97 L525.45,84.82 L525.87,84.67 L526.28,84.53 L526.70,84.40 L527.12,84.26 L527.53,84.14 L527.95,84.02 L528.36,83.90 L528.78,83.80 L529.20,83.70 L529.61,83.61 L530.03,83.54 L530.44,83.47 L530.86,83.41 L531.27,83.36 L531.69,83.33 L532.11,83.30 L532.52,83.29 L532.62,83.29 L532.94,83.30 L533.35,83.30 L533.77,83.31 L534.19,83.33 L534.60,83.35 L535.02,83.38 L535.43,83.41 L535.85,83.44 L536.27,83.48 L536.68,83.52 L537.10,83.57 L537.51,83.63 L537.93,83.68 L538.34,83.74 L538.76,83.81 L539.18,83.88 L539.59,83.95 L540.01,84.02 L540.42,84.10 L540.84,84.19 L541.26,84.27 L541.67,84.36 L542.09,84.46 L542.50,84.55 L542.92,84.65 L543.34,84.76 L543.75,84.86 L544.17,84.97 L544.58,85.08 L545.00,85.20 L545.41,85.31 L545.83,85.43 L546.25,85.56 L546.66,85.68 L547.08,85.81 L547.49,85.94 L547.91,86.07 L548.33,86.20 L548.74,86.34 L549.16,86.47 L549.45,86.57 L549.57,86.61 L549.99,86.77 L550.41,86.95 L550.82,87.15 L551.24,87.38 L551.65,87.62 L552.07,87.88 L552.48,88.16 L552.90,88.46 L553.32,88.78 L553.73,89.12 L554.15,89.47 L554.56,89.84 L554.98,90.22 L555.40,90.62 L555.81,91.03 L556.23,91.45 L556.64,91.89 L557.06,92.34 L557.47,92.80 L557.89,93.27 L558.31,93.75 L558.72,94.25 L559.14,94.74 L559.42,95.09 L559.55,95.26 L559.97,95.82 L560.39,96.44 L560.80,97.12 L561.22,97.85 L561.63,98.62 L562.05,99.43 L562.47,100.28 L562.88,101.16 L563.30,102.07 L563.71,102.99 L564.13,103.93 L564.54,104.87 L564.96,105.82 L565.38,106.77 L565.79,107.72 L566.21,108.65 L566.62,109.56 L566.91,110.17 L567.04,110.46 L567.46,111.33 L567.87,112.21 L568.29,113.08 L568.70,113.96 L569.12,114.85 L569.54,115.77 L569.95,116.71 L570.37,117.70 L570.78,118.73 L571.20,119.81 L571.27,120.00 L571.61,120.95 L572.03,122.12 L572.45,123.35 L572.86,124.62 L573.28,125.97 L573.69,127.39 L574.11,128.89 L574.53,130.48 L574.94,132.17 L575.01,132.46 L575.36,134.03 L575.77,136.13 L576.19,138.44 L576.61,140.92 L577.02,143.54 L577.44,146.25 L577.85,149.01 L578.27,151.78 L578.68,154.53 L579.10,157.22 L579.52,159.80 L579.93,162.25 L580.00,162.61 L580.35,164.64 L580.76,167.14 L581.18,169.69 L581.60,172.22 L582.01,174.66 L582.43,176.94 L582.84,178.99 L583.26,180.73 L583.68,182.11 L583.74,182.27 L584.09,183.21 L584.51,184.28 L584.92,185.31 L585.34,186.30 L585.75,187.22 L586.17,188.07 L586.59,188.82 L587.00,189.48 L587.42,190.02 L587.83,190.42 L588.25,190.69 L588.67,190.79 L588.72,190.80 L589.08,190.23 L589.50,188.36 L589.91,185.56 L590.33,182.22 L590.75,178.72 L591.16,175.47 L591.22,175.06 L591.58,172.41 L591.99,169.07 L592.41,165.52 L592.82,161.87 L593.24,158.20 L593.66,154.61 L594.07,151.19 L594.49,148.04 L594.90,145.24 L594.96,144.91 L595.32,142.81 L595.74,140.59 L596.15,138.53 L596.57,136.56 L596.98,134.64 L597.40,132.70 L597.45,132.46 L597.82,130.71 L598.23,128.68 L598.65,126.64 L599.06,124.59 L599.48,122.56 L599.89,120.56 L600.31,118.62 L600.73,116.75 L601.14,114.96 L601.56,113.29 L601.97,111.73 L602.39,110.33 L602.44,110.17 L602.81,109.04 L603.22,107.81 L603.64,106.64 L604.05,105.52 L604.47,104.45 L604.88,103.43 L605.30,102.43 L605.72,101.48 L606.13,100.55 L606.55,99.64 L606.96,98.75 L607.38,97.87 L607.80,96.99 L608.21,96.12 L608.63,95.25 L609.04,94.37 L609.46,93.48 L609.88,92.57 L609.92,92.47 L610.29,91.65 L610.71,90.72 L611.12,89.81 L611.54,88.89 L611.95,87.99 L612.37,87.09 L612.79,86.20 L613.20,85.32 L613.62,84.46 L614.03,83.60 L614.45,82.77 L614.87,81.94 L615.28,81.14 L615.53,80.67 L615.70,80.36 L616.11,79.58 L616.53,78.81 L616.95,78.05 L617.36,77.30 L617.78,76.57 L618.19,75.85 L618.61,75.16 L619.02,74.50 L619.44,73.86 L619.86,73.25 L619.89,73.20 L620.27,72.67 L620.69,72.09 L621.10,71.53 L621.52,70.97 L621.94,70.42 L622.35,69.89 L622.77,69.36 L623.18,68.84 L623.60,68.32 L624.02,67.82 L624.43,67.32 L624.85,66.83 L625.26,66.35 L625.68,65.88 L626.09,65.42 L626.51,64.96 L626.93,64.51 L627.34,64.07 L627.76,63.63 L628.17,63.20 L628.59,62.78 L629.01,62.36 L629.42,61.95 L629.84,61.55 L630.25,61.15 L630.67,60.76 L631.09,60.38 L631.12,60.35 L631.50,60.00 L631.92,59.62 L632.33,59.25 L632.75,58.88 L633.16,58.52 L633.58,58.16 L634.00,57.80 L634.41,57.45 L634.83,57.10 L635.24,56.75 L635.66,56.41 L636.08,56.08 L636.49,55.74 L636.91,55.41 L637.32,55.08 L637.74,54.76 L638.16,54.44 L638.57,54.12 L638.99,53.81 L639.40,53.50 L639.82,53.19 L640.23,52.89 L640.65,52.59 L641.07,52.30 L641.48,52.00 L641.90,51.71 L642.31,51.43 L642.73,51.14 L643.15,50.86 L643.56,50.59 L643.98,50.31 L644.39,50.04 L644.81,49.77 L645.23,49.51 L645.64,49.25 L646.06,48.99 L646.47,48.73 L646.89,48.48 L647.20,48.29 L647.30,48.23 L647.72,47.98 L648.14,47.73 L648.55,47.49 L648.97,47.24 L649.38,47.00 L649.80,46.76 L650.22,46.52 L650.63,46.29 L651.05,46.06 L651.46,45.82 L651.88,45.60 L652.29,45.37 L652.71,45.14 L653.13,44.92 L653.54,44.70 L653.96,44.48 L654.37,44.26 L654.79,44.05 L655.21,43.84 L655.62,43.63 L656.04,43.42 L656.45,43.22 L656.87,43.01 L657.29,42.81 L657.70,42.62 L658.12,42.42 L658.53,42.23 L658.95,42.04 L659.36,41.85 L659.78,41.67 L660.20,41.49 L660.61,41.31 L661.03,41.13 L661.44,40.96 L661.86,40.79 L662.28,40.62 L662.69,40.46 L663.11,40.29 L663.28,40.23 L663.52,40.14 L663.94,39.98 L664.36,39.82 L664.77,39.67 L665.19,39.51 L665.60,39.36 L666.02,39.21 L666.43,39.07 L666.85,38.92 L667.27,38.77 L667.68,38.63 L668.10,38.49 L668.51,38.35 L668.93,38.22 L669.35,38.08 L669.76,37.95 L670.18,37.82 L670.59,37.69 L671.01,37.56 L671.43,37.44 L671.84,37.32 L672.26,37.20 L672.67,37.08 L673.09,36.97 L673.50,36.85 L673.92,36.74 L674.34,36.63 L674.75,36.53 L675.17,36.43 L675.58,36.33 L676.00,36.23" stroke="#000" stroke-width="2.2" stroke-dasharray="6.2 6.1"/>
<path d="M52.60,12.17 L53.02,12.17 L53.43,12.17 L53.85,12.17 L54.26,12.17 L54.68,12.17 L55.10,12.17 L55.51,12.17 L55.93,12.17 L56.34,12.17 L56.76,12.17 L57.17,12.17 L57.59,12.17 L58.01,12.17 L58.42,12.17 L58.84,12.17 L59.25,12.17 L59.46,12.17 L59.67,12.16 L60.09,12.10 L60.50,11.99 L60.92,11.83 L61.33,11.64 L61.75,11.41 L62.17,11.15 L62.58,10.88 L63.00,10.59 L63.41,10.30 L63.83,10.01 L64.24,9.73 L64.66,9.46 L65.07,9.22 L65.08,9.22 L65.49,8.98 L65.91,8.74 L66.32,8.50 L66.74,8.26 L67.16,8.01 L67.57,7.76 L67.99,7.51 L68.40,7.25 L68.82,6.99 L69.24,6.73 L69.43,6.60 L69.65,6.45 L70.07,6.12 L70.48,5.74 L70.90,5.36 L71.31,4.97 L71.73,4.63 L72.15,4.33 L72.56,4.11 L72.98,3.99 L73.17,3.98 L73.39,3.98 L73.81,4.00 L74.23,4.05 L74.64,4.11 L75.06,4.19 L75.47,4.29 L75.89,4.40 L76.31,4.53 L76.72,4.67 L77.14,4.82 L77.55,4.99 L77.97,5.16 L78.38,5.34 L78.80,5.53 L79.22,5.73 L79.63,5.93 L80.05,6.14 L80.46,6.35 L80.88,6.56 L80.96,6.60 L81.30,6.78 L81.71,7.04 L82.13,7.33 L82.54,7.65 L82.96,8.00 L83.37,8.37 L83.79,8.78 L84.21,9.20 L84.62,9.64 L85.04,10.11 L85.45,10.59 L85.87,11.08 L86.29,11.58 L86.70,12.10 L87.12,12.62 L87.53,13.15 L87.95,13.68 L88.37,14.21 L88.78,14.74 L89.20,15.27 L89.44,15.58 L89.61,15.80 L90.03,16.34 L90.44,16.91 L90.86,17.49 L91.28,18.09 L91.69,18.71 L92.11,19.34 L92.52,19.99 L92.94,20.64 L93.36,21.30 L93.77,21.96 L94.19,22.62 L94.60,23.29 L95.02,23.95 L95.24,24.30 L95.44,24.61 L95.85,25.27 L96.27,25.94 L96.68,26.62 L97.10,27.30 L97.51,27.98 L97.93,28.67 L98.35,29.37 L98.76,30.07 L99.18,30.78 L99.59,31.48 L100.01,32.20 L100.43,32.91 L100.84,33.64 L100.98,33.87 L101.26,34.35 L101.67,35.06 L102.09,35.77 L102.51,36.48 L102.92,37.22 L103.34,37.99 L103.75,38.80 L104.03,39.38 L104.17,39.67 L104.58,40.62 L105.00,41.62 L105.42,42.69 L105.83,43.79 L106.25,44.94 L106.66,46.10 L107.08,47.28 L107.50,48.46 L107.91,49.64 L108.33,50.80 L108.71,51.83 L108.74,51.93 L109.16,53.04 L109.58,54.13 L109.99,55.22 L110.41,56.30 L110.82,57.41 L111.24,58.53 L111.65,59.68 L112.07,60.87 L112.45,61.99 L112.49,62.11 L112.90,63.37 L113.32,64.63 L113.73,65.90 L114.15,67.18 L114.57,68.48 L114.98,69.81 L115.40,71.16 L115.81,72.56 L116.23,73.99 L116.65,75.47 L117.06,77.01 L117.48,78.60 L117.89,80.26 L118.31,81.99 L118.72,83.79 L118.99,85.00 L119.14,85.71 L119.56,88.01 L119.97,90.48 L120.24,92.01 L120.39,92.84 L120.80,95.15 L121.22,97.47 L121.64,99.79 L122.05,102.09 L122.47,104.37 L122.88,106.63 L123.30,108.84 L123.72,111.00 L124.13,113.11 L124.29,113.91 L124.55,115.17 L124.96,117.25 L125.38,119.28 L125.79,121.20 L126.21,122.95 L126.47,123.93 L126.63,124.50 L127.04,126.14 L127.46,127.59 L127.87,128.44 L128.03,128.52 L128.29,128.33 L128.71,127.41 L129.12,126.08 L129.54,124.76 L129.90,123.93 L129.95,123.85 L130.37,123.23 L130.78,122.67 L131.20,122.15 L131.62,121.67 L132.03,121.24 L132.45,120.83 L132.86,120.44 L133.28,120.06 L133.70,119.70 L134.11,119.34 L134.53,118.97 L134.94,118.59 L135.36,118.19 L135.78,117.77 L136.14,117.38 L136.19,117.32 L136.61,116.84 L137.02,116.35 L137.44,115.85 L137.85,115.35 L138.27,114.83 L138.69,114.31 L139.10,113.79 L139.52,113.26 L139.93,112.74 L140.35,112.21 L140.77,111.69 L141.18,111.17 L141.60,110.66 L142.01,110.16 L142.43,109.66 L142.85,109.18 L143.26,108.71 L143.37,108.60 L143.68,108.25 L144.09,107.76 L144.51,107.25 L144.92,106.72 L145.34,106.18 L145.76,105.63 L146.17,105.08 L146.59,104.52 L147.00,103.97 L147.42,103.42 L147.84,102.88 L148.25,102.35 L148.67,101.84 L149.08,101.35 L149.50,100.89 L149.92,100.45 L150.33,100.04 L150.75,99.67 L151.16,99.34 L151.58,99.05 L151.99,98.81 L152.41,98.61 L152.83,98.47 L153.24,98.39 L153.59,98.37 L153.66,98.37 L154.07,98.39 L154.49,98.43 L154.91,98.50 L155.32,98.59 L155.74,98.70 L156.15,98.84 L156.57,99.00 L156.99,99.17 L157.40,99.37 L157.82,99.58 L158.23,99.81 L158.65,100.06 L159.06,100.32 L159.48,100.60 L159.90,100.88 L160.31,101.18 L160.73,101.49 L161.14,101.82 L161.56,102.15 L161.98,102.48 L162.39,102.83 L162.81,103.18 L163.22,103.54 L163.64,103.90 L164.06,104.26 L164.47,104.62 L164.81,104.92 L164.89,104.99 L165.30,105.39 L165.72,105.85 L166.13,106.35 L166.55,106.89 L166.97,107.48 L167.38,108.10 L167.80,108.76 L168.21,109.45 L168.63,110.18 L168.99,110.82 L169.05,110.93 L169.46,111.77 L169.88,112.73 L170.29,113.77 L170.71,114.87 L171.13,116.01 L171.54,117.17 L171.96,118.31 L172.37,119.41 L172.60,120.00 L172.79,120.46 L173.20,121.51 L173.62,122.57 L174.04,123.63 L174.45,124.69 L174.87,125.76 L175.28,126.83 L175.70,127.91 L176.12,128.98 L176.53,130.05 L176.95,131.12 L177.36,132.18 L177.78,133.24 L178.19,134.29 L178.61,135.33 L179.03,136.37 L179.44,137.39 L179.86,138.40 L180.27,139.40 L180.69,140.39 L181.11,141.36 L181.52,142.31 L181.94,143.24 L182.35,144.16 L182.77,145.05 L183.19,145.92 L183.20,145.96 L183.60,146.85 L184.02,147.86 L184.43,148.89 L184.85,149.88 L185.26,150.77 L185.68,151.48 L186.10,151.95 L186.51,152.12 L186.51,152.12 L186.93,151.91 L187.34,151.35 L187.76,150.55 L188.18,149.61 L188.59,148.65 L189.01,147.76 L189.12,147.53 L189.42,146.98 L189.84,146.19 L190.26,145.40 L190.67,144.59 L191.09,143.77 L191.50,142.94 L191.92,142.09 L192.33,141.25 L192.75,140.39 L193.17,139.53 L193.58,138.66 L194.00,137.79 L194.41,136.91 L194.83,136.04 L195.25,135.16 L195.66,134.28 L196.08,133.41 L196.49,132.53 L196.91,131.66 L197.33,130.80 L197.74,129.93 L198.16,129.08 L198.57,128.23 L198.99,127.40 L199.40,126.57 L199.82,125.75 L200.24,124.95 L200.65,124.15 L201.07,123.38 L201.48,122.61 L201.90,121.87 L202.32,121.14 L202.40,120.98 L202.73,120.42 L203.15,119.71 L203.56,119.02 L203.98,118.32 L204.40,117.64 L204.81,116.97 L205.23,116.30 L205.64,115.64 L206.06,114.98 L206.47,114.33 L206.89,113.69 L207.31,113.06 L207.72,112.43 L208.14,111.81 L208.55,111.19 L208.97,110.58 L209.39,109.98 L209.80,109.38 L210.22,108.78 L210.63,108.20 L211.05,107.61 L211.47,107.03 L211.57,106.89 L211.88,106.45 L212.30,105.86 L212.71,105.26 L213.13,104.65 L213.54,104.03 L213.96,103.40 L214.38,102.77 L214.79,102.13 L215.21,101.50 L215.62,100.86 L216.04,100.22 L216.46,99.59 L216.87,98.97 L217.29,98.35 L217.70,97.73 L218.12,97.13 L218.54,96.54 L218.95,95.96 L219.37,95.40 L219.78,94.85 L220.20,94.32 L220.61,93.80 L221.03,93.31 L221.45,92.84 L221.86,92.40 L222.28,91.98 L222.69,91.59 L223.11,91.22 L223.53,90.89 L223.94,90.59 L224.36,90.32 L224.77,90.08 L225.19,89.89 L225.28,89.85 L225.60,89.72 L226.02,89.56 L226.44,89.40 L226.85,89.24 L227.27,89.09 L227.68,88.95 L228.10,88.81 L228.52,88.67 L228.93,88.54 L229.35,88.41 L229.76,88.29 L230.18,88.17 L230.60,88.06 L231.01,87.94 L231.43,87.84 L231.84,87.73 L232.26,87.63 L232.67,87.53 L233.09,87.44 L233.51,87.35 L233.92,87.26 L234.34,87.18 L234.75,87.09 L235.17,87.01 L235.59,86.94 L236.00,86.86 L236.42,86.79 L236.83,86.73 L237.25,86.66 L237.67,86.59 L238.08,86.53 L238.50,86.47 L238.91,86.42 L239.33,86.36 L239.74,86.31 L240.16,86.25 L240.24,86.24 L240.58,86.20 L240.99,86.15 L241.41,86.10 L241.82,86.05 L242.24,86.00 L242.66,85.95 L243.07,85.90 L243.49,85.85 L243.90,85.80 L244.32,85.75 L244.74,85.71 L245.15,85.66 L245.57,85.61 L245.98,85.56 L246.40,85.52 L246.81,85.47 L247.23,85.43 L247.65,85.39 L248.06,85.34 L248.48,85.30 L248.89,85.26 L249.31,85.22 L249.73,85.18 L250.14,85.14 L250.56,85.11 L250.97,85.07 L251.39,85.03 L251.81,85.00 L252.22,84.97 L252.64,84.93 L253.05,84.90 L253.47,84.87 L253.88,84.85 L254.30,84.82 L254.72,84.79 L255.13,84.77 L255.55,84.75 L255.96,84.73 L256.38,84.71 L256.80,84.69 L257.21,84.67 L257.63,84.66 L258.04,84.65 L258.46,84.63 L258.88,84.63 L259.29,84.62 L259.71,84.61 L260.12,84.61 L260.54,84.60 L260.82,84.60 L260.95,84.60 L261.37,84.61 L261.79,84.62 L262.20,84.63 L262.62,84.65 L263.03,84.68 L263.45,84.71 L263.87,84.74 L264.28,84.78 L264.70,84.82 L265.11,84.87 L265.53,84.92 L265.95,84.97 L266.36,85.03 L266.78,85.09 L267.19,85.15 L267.61,85.22 L268.02,85.29 L268.44,85.36 L268.86,85.43 L269.27,85.51 L269.69,85.59 L270.10,85.67 L270.52,85.76 L270.94,85.84 L271.35,85.93 L271.77,86.02 L272.18,86.11 L272.60,86.20 L273.01,86.30 L273.43,86.39 L273.85,86.49 L274.26,86.58 L274.68,86.68 L275.09,86.78 L275.51,86.87 L275.93,86.97 L276.34,87.07 L276.76,87.16 L277.02,87.23 L277.17,87.26 L277.59,87.36 L278.01,87.47 L278.42,87.57 L278.84,87.68 L279.25,87.80 L279.67,87.92 L280.08,88.04 L280.50,88.17 L280.92,88.30 L281.33,88.43 L281.75,88.57 L282.16,88.71 L282.58,88.85 L283.00,89.00 L283.41,89.15 L283.83,89.30 L284.24,89.46 L284.66,89.62 L285.08,89.79 L285.49,89.96 L285.91,90.13 L286.32,90.30 L286.74,90.48 L287.15,90.66 L287.57,90.84 L287.99,91.03 L288.40,91.22 L288.82,91.41 L289.23,91.61 L289.65,91.81 L290.07,92.01 L290.48,92.22 L290.90,92.43 L291.31,92.64 L291.73,92.85 L292.15,93.07 L292.56,93.29 L292.98,93.51 L293.39,93.74 L293.81,93.96 L294.22,94.19 L294.64,94.43 L295.06,94.66 L295.47,94.90 L295.89,95.14 L296.30,95.39 L296.72,95.63 L297.14,95.88 L297.55,96.13 L297.97,96.38 L298.38,96.64 L298.80,96.90 L299.22,97.16 L299.63,97.42 L300.05,97.69 L300.09,97.71 L300.46,97.96 L300.88,98.25 L301.29,98.55 L301.71,98.87 L302.13,99.20 L302.54,99.55 L302.96,99.90 L303.37,100.27 L303.79,100.66 L304.21,101.05 L304.62,101.46 L305.04,101.88 L305.45,102.30 L305.87,102.74 L306.29,103.19 L306.70,103.64 L307.12,104.10 L307.53,104.57 L307.95,105.05 L308.36,105.54 L308.78,106.03 L309.20,106.53 L309.61,107.03 L310.03,107.54 L310.44,108.05 L310.86,108.57 L311.28,109.09 L311.69,109.62 L312.11,110.14 L312.52,110.67 L312.94,111.20 L313.36,111.73 L313.77,112.27 L314.19,112.80 L314.60,113.33 L315.02,113.86 L315.43,114.40 L315.85,114.93 L316.27,115.45 L316.68,115.98 L317.10,116.50 L317.51,117.02 L317.93,117.53 L318.35,118.04 L318.76,118.55 L319.18,119.05 L319.59,119.54 L320.01,120.03 L320.42,120.51 L320.84,120.99 L321.26,121.45 L321.67,121.91 L322.09,122.36 L322.50,122.80 L322.92,123.23 L323.34,123.65 L323.75,124.06 L324.17,124.46 L324.58,124.85 L325.00,125.22 L325.03,125.25 L325.42,125.60 L325.83,125.98 L326.25,126.37 L326.66,126.77 L327.08,127.17 L327.49,127.58 L327.91,128.00 L328.33,128.42 L328.74,128.84 L329.16,129.26 L329.57,129.68 L329.99,130.11 L330.41,130.53 L330.82,130.95 L331.24,131.36 L331.65,131.77 L332.07,132.17 L332.49,132.57 L332.90,132.96 L333.32,133.34 L333.73,133.71 L334.15,134.07 L334.56,134.42 L334.98,134.75 L335.40,135.07 L335.81,135.38 L336.23,135.66 L336.64,135.94 L337.06,136.19 L337.48,136.42 L337.89,136.64 L338.31,136.83 L338.72,137.00 L339.14,137.15 L339.56,137.27 L339.97,137.37 L340.39,137.44 L340.80,137.49 L341.22,137.50 L341.23,137.50 L341.63,137.49 L342.05,137.45 L342.47,137.39 L342.88,137.31 L343.30,137.20 L343.71,137.08 L344.13,136.93 L344.55,136.77 L344.96,136.58 L345.38,136.39 L345.79,136.17 L346.21,135.95 L346.63,135.70 L347.04,135.45 L347.46,135.19 L347.87,134.91 L348.29,134.63 L348.70,134.34 L349.12,134.05 L349.54,133.75 L349.95,133.44 L350.37,133.13 L350.78,132.82 L351.20,132.51 L351.62,132.20 L352.03,131.89 L352.45,131.58 L352.86,131.27 L353.28,130.97 L353.70,130.68 L354.11,130.39 L354.53,130.11 L354.94,129.84 L354.95,129.83 L355.36,129.57 L355.77,129.29 L356.19,129.00 L356.61,128.70 L357.02,128.40 L357.44,128.09 L357.85,127.78 L358.27,127.46 L358.69,127.15 L359.10,126.82 L359.52,126.50 L359.93,126.18 L360.35,125.85 L360.77,125.53 L361.18,125.21 L361.60,124.89 L362.01,124.58 L362.43,124.27 L362.84,123.96 L363.26,123.67 L363.68,123.37 L364.09,123.09 L364.30,122.95 L364.51,122.81 L364.92,122.54 L365.34,122.26 L365.76,121.99 L366.17,121.72 L366.59,121.44 L367.00,121.17 L367.42,120.90 L367.83,120.63 L368.25,120.36 L368.67,120.10 L369.08,119.83 L369.50,119.57 L369.91,119.31 L370.33,119.05 L370.75,118.79 L371.16,118.53 L371.58,118.28 L371.99,118.03 L372.41,117.78 L372.83,117.54 L373.24,117.30 L373.66,117.06 L374.07,116.82 L374.49,116.59 L374.90,116.36 L375.32,116.14 L375.74,115.92 L376.15,115.70 L376.57,115.49 L376.98,115.28 L377.40,115.07 L377.82,114.87 L378.20,114.69 L378.23,114.68 L378.65,114.49 L379.06,114.29 L379.48,114.10 L379.90,113.92 L380.31,113.73 L380.73,113.55 L381.14,113.36 L381.56,113.18 L381.97,113.00 L382.39,112.83 L382.81,112.65 L383.22,112.47 L383.64,112.30 L384.05,112.13 L384.47,111.96 L384.89,111.79 L385.30,111.63 L385.72,111.46 L386.13,111.30 L386.55,111.14 L386.97,110.98 L387.38,110.82 L387.80,110.66 L388.21,110.51 L388.63,110.35 L389.04,110.20 L389.46,110.05 L389.88,109.90 L390.29,109.76 L390.71,109.61 L391.12,109.47 L391.54,109.32 L391.96,109.18 L392.37,109.04 L392.79,108.91 L393.20,108.77 L393.62,108.63 L394.04,108.50 L394.45,108.37 L394.87,108.24 L395.28,108.11 L395.70,107.99 L396.11,107.86 L396.53,107.74 L396.95,107.61 L397.36,107.49 L397.40,107.48 L397.78,107.37 L398.19,107.25 L398.61,107.13 L399.03,107.00 L399.44,106.88 L399.86,106.75 L400.27,106.62 L400.69,106.49 L401.11,106.36 L401.52,106.23 L401.94,106.10 L402.35,105.97 L402.77,105.84 L403.18,105.71 L403.60,105.58 L404.02,105.45 L404.43,105.32 L404.85,105.19 L405.26,105.06 L405.68,104.93 L406.10,104.81 L406.51,104.68 L406.93,104.56 L407.34,104.44 L407.76,104.32 L408.18,104.20 L408.59,104.09 L409.01,103.97 L409.42,103.86 L409.84,103.75 L410.25,103.65 L410.67,103.55 L411.09,103.45 L411.50,103.35 L411.92,103.26 L412.33,103.17 L412.75,103.08 L413.17,103.00 L413.58,102.92 L414.00,102.84 L414.41,102.77 L414.83,102.71 L415.24,102.64 L415.66,102.59 L416.08,102.53 L416.49,102.49 L416.91,102.44 L417.32,102.41 L417.74,102.38 L418.16,102.35 L418.57,102.33 L418.99,102.31 L419.40,102.31 L419.78,102.30 L419.82,102.30 L420.24,102.31 L420.65,102.33 L421.07,102.36 L421.48,102.39 L421.90,102.44 L422.31,102.50 L422.73,102.57 L423.15,102.64 L423.56,102.72 L423.98,102.81 L424.39,102.91 L424.81,103.01 L425.23,103.12 L425.64,103.23 L426.06,103.35 L426.47,103.48 L426.89,103.61 L427.31,103.74 L427.72,103.88 L428.14,104.01 L428.55,104.15 L428.97,104.30 L429.38,104.44 L429.80,104.59 L430.22,104.73 L430.63,104.88 L431.05,105.03 L431.46,105.17 L431.88,105.31 L432.30,105.46 L432.71,105.60 L433.13,105.73 L433.54,105.87 L433.96,106.00 L434.38,106.13 L434.74,106.24 L434.79,106.25 L435.21,106.37 L435.62,106.50 L436.04,106.62 L436.45,106.75 L436.87,106.89 L437.29,107.02 L437.70,107.16 L438.12,107.30 L438.53,107.44 L438.95,107.58 L439.37,107.72 L439.78,107.86 L440.20,108.01 L440.61,108.16 L441.03,108.30 L441.45,108.45 L441.86,108.60 L442.28,108.75 L442.69,108.90 L443.11,109.05 L443.52,109.20 L443.94,109.35 L444.36,109.50 L444.77,109.65 L445.19,109.80 L445.60,109.94 L446.02,110.09 L446.44,110.24 L446.85,110.39 L447.27,110.53 L447.68,110.67 L448.10,110.82 L448.52,110.96 L448.93,111.10 L449.35,111.23 L449.76,111.37 L450.18,111.50 L450.59,111.64 L451.01,111.77 L451.43,111.89 L451.84,112.02 L452.26,112.14 L452.67,112.26 L453.09,112.37 L453.51,112.49 L453.92,112.60 L454.34,112.70 L454.69,112.79 L454.75,112.81 L455.17,112.91 L455.59,113.02 L456.00,113.12 L456.42,113.23 L456.83,113.34 L457.25,113.46 L457.66,113.57 L458.08,113.68 L458.50,113.79 L458.91,113.91 L459.33,114.02 L459.74,114.13 L460.16,114.23 L460.58,114.34 L460.99,114.44 L461.41,114.54 L461.82,114.64 L462.24,114.73 L462.65,114.82 L463.07,114.90 L463.49,114.98 L463.90,115.06 L464.32,115.12 L464.73,115.19 L465.15,115.24 L465.57,115.29 L465.98,115.33 L466.40,115.36 L466.81,115.39 L467.23,115.40 L467.65,115.41 L467.78,115.41 L468.06,115.41 L468.48,115.40 L468.89,115.38 L469.31,115.36 L469.72,115.32 L470.14,115.28 L470.56,115.23 L470.97,115.18 L471.39,115.12 L471.80,115.05 L472.22,114.98 L472.64,114.90 L473.05,114.81 L473.47,114.72 L473.88,114.63 L474.30,114.53 L474.72,114.43 L475.13,114.32 L475.55,114.21 L475.96,114.10 L476.38,113.98 L476.79,113.86 L477.21,113.74 L477.63,113.61 L478.04,113.49 L478.46,113.36 L478.87,113.23 L479.29,113.10 L479.71,112.96 L480.12,112.83 L480.25,112.79 L480.54,112.70 L480.95,112.55 L481.37,112.39 L481.79,112.22 L482.20,112.03 L482.62,111.84 L483.03,111.63 L483.45,111.41 L483.86,111.19 L484.28,110.95 L484.70,110.70 L485.11,110.44 L485.53,110.18 L485.94,109.91 L486.36,109.62 L486.78,109.33 L487.19,109.03 L487.61,108.73 L488.02,108.42 L488.44,108.10 L488.86,107.77 L489.27,107.44 L489.69,107.11 L490.10,106.77 L490.52,106.42 L490.93,106.07 L491.35,105.72 L491.77,105.36 L492.18,105.00 L492.60,104.64 L493.01,104.27 L493.43,103.90 L493.85,103.53 L494.26,103.16 L494.68,102.79 L495.09,102.41 L495.21,102.30 L495.51,102.03 L495.93,101.60 L496.34,101.14 L496.76,100.64 L497.17,100.12 L497.59,99.57 L498.00,99.01 L498.42,98.43 L498.84,97.84 L499.25,97.25 L499.67,96.65 L500.08,96.06 L500.50,95.48 L500.92,94.91 L501.33,94.35 L501.75,93.82 L502.16,93.32 L502.58,92.85 L503.00,92.41 L503.41,92.01 L503.83,91.66 L504.24,91.36 L504.56,91.16 L504.66,91.11 L505.07,90.88 L505.49,90.65 L505.91,90.42 L506.32,90.19 L506.74,89.97 L507.15,89.75 L507.57,89.54 L507.99,89.32 L508.40,89.12 L508.82,88.91 L509.23,88.71 L509.65,88.51 L510.06,88.32 L510.48,88.14 L510.90,87.95 L511.31,87.78 L511.73,87.60 L512.14,87.44 L512.56,87.28 L512.98,87.12 L513.39,86.97 L513.81,86.83 L514.22,86.70 L514.64,86.57 L515.06,86.45 L515.47,86.33 L515.89,86.22 L516.30,86.12 L516.72,86.03 L517.13,85.95 L517.55,85.87 L517.97,85.81 L518.38,85.75 L518.80,85.70 L519.21,85.66 L519.63,85.62 L520.05,85.60 L520.46,85.59 L520.77,85.59 L520.88,85.59 L521.29,85.59 L521.71,85.61 L522.13,85.63 L522.54,85.66 L522.96,85.69 L523.37,85.73 L523.79,85.78 L524.20,85.83 L524.62,85.88 L525.04,85.94 L525.45,86.00 L525.87,86.06 L526.28,86.13 L526.70,86.19 L527.01,86.24 L527.12,86.26 L527.53,86.34 L527.95,86.43 L528.36,86.52 L528.78,86.63 L529.20,86.75 L529.61,86.89 L530.03,87.03 L530.44,87.18 L530.86,87.34 L531.27,87.51 L531.69,87.69 L532.11,87.88 L532.52,88.08 L532.94,88.28 L533.35,88.50 L533.77,88.72 L534.19,88.95 L534.60,89.19 L535.02,89.43 L535.43,89.69 L535.85,89.95 L536.27,90.21 L536.68,90.49 L537.10,90.77 L537.51,91.05 L537.93,91.34 L538.34,91.64 L538.76,91.94 L539.18,92.25 L539.48,92.47 L539.59,92.56 L540.01,92.90 L540.42,93.27 L540.84,93.67 L541.26,94.10 L541.67,94.56 L542.09,95.04 L542.50,95.55 L542.92,96.09 L543.34,96.65 L543.75,97.23 L544.17,97.83 L544.58,98.45 L545.00,99.09 L545.41,99.74 L545.83,100.41 L546.25,101.10 L546.66,101.80 L546.96,102.30 L547.08,102.52 L547.49,103.28 L547.91,104.11 L548.33,104.99 L548.74,105.91 L549.16,106.88 L549.57,107.89 L549.99,108.93 L550.41,110.00 L550.82,111.08 L551.24,112.18 L551.65,113.29 L552.07,114.41 L552.48,115.52 L552.90,116.62 L553.19,117.38 L553.32,117.71 L553.73,118.78 L554.15,119.84 L554.56,120.89 L554.98,121.94 L555.40,123.01 L555.81,124.08 L556.23,125.18 L556.64,126.31 L557.06,127.47 L557.47,128.67 L557.89,129.92 L558.31,131.23 L558.72,132.60 L559.14,134.04 L559.42,135.08 L559.55,135.57 L559.97,137.24 L560.39,139.08 L560.80,141.05 L561.22,143.12 L561.63,145.28 L562.05,147.49 L562.47,149.74 L562.54,150.15 L562.88,151.95 L563.30,154.03 L563.71,156.03 L564.13,157.99 L564.54,159.95 L564.96,161.96 L565.38,164.06 L565.79,166.29 L566.21,168.70 L566.62,171.33 L567.04,174.23 L567.46,177.44 L567.87,180.99 L568.29,184.95 L568.70,189.34 L568.78,190.14 L569.12,197.32 L569.54,209.68 L569.95,217.46 L570.02,217.67 L570.37,215.48 L570.78,209.45 L571.20,203.84 L571.27,203.25 L571.61,200.88 L572.03,198.45 L572.45,196.38 L572.86,194.56 L573.28,192.88 L573.69,191.22 L574.11,189.48 L574.53,187.54 L574.94,185.30 L575.01,184.90 L575.36,182.66 L575.77,179.68 L576.19,176.41 L576.61,172.93 L577.02,169.29 L577.44,165.58 L577.85,161.85 L578.27,158.17 L578.68,154.61 L579.10,151.23 L579.52,148.11 L579.93,145.31 L580.00,144.91 L580.35,142.79 L580.76,140.37 L581.18,138.06 L581.60,135.84 L582.01,133.70 L582.43,131.64 L582.84,129.63 L583.26,127.69 L583.68,125.78 L584.09,123.92 L584.51,122.08 L584.92,120.27 L584.98,120.00 L585.34,118.50 L585.75,116.82 L586.17,115.21 L586.59,113.62 L587.00,112.03 L587.42,110.40 L587.48,110.17 L587.83,108.70 L588.25,106.88 L588.67,104.99 L589.08,103.06 L589.50,101.12 L589.91,99.20 L590.33,97.34 L590.75,95.57 L591.16,93.91 L591.58,92.40 L591.99,91.08 L592.41,89.98 L592.46,89.85 L592.82,89.04 L593.24,88.16 L593.66,87.32 L594.07,86.52 L594.49,85.76 L594.90,85.04 L595.32,84.35 L595.74,83.70 L596.15,83.07 L596.57,82.47 L596.98,81.90 L597.40,81.34 L597.82,80.80 L598.23,80.28 L598.65,79.76 L599.06,79.26 L599.48,78.76 L599.89,78.27 L600.31,77.78 L600.73,77.29 L601.14,76.79 L601.56,76.28 L601.97,75.76 L602.39,75.24 L602.81,74.69 L603.22,74.13 L603.64,73.54 L603.87,73.20 L604.05,72.93 L604.47,72.30 L604.88,71.66 L605.30,71.00 L605.72,70.33 L606.13,69.66 L606.55,68.97 L606.96,68.29 L607.38,67.60 L607.80,66.91 L608.21,66.23 L608.63,65.55 L609.04,64.88 L609.46,64.22 L609.88,63.57 L610.29,62.94 L610.71,62.33 L611.12,61.74 L611.54,61.17 L611.95,60.63 L612.37,60.11 L612.79,59.62 L613.20,59.17 L613.62,58.75 L613.66,58.71 L614.03,58.36 L614.45,57.97 L614.87,57.60 L615.28,57.22 L615.70,56.86 L616.11,56.51 L616.53,56.16 L616.95,55.82 L617.36,55.48 L617.78,55.15 L618.19,54.83 L618.61,54.51 L619.02,54.20 L619.44,53.90 L619.86,53.60 L620.27,53.31 L620.69,53.02 L621.10,52.74 L621.52,52.46 L621.94,52.18 L622.35,51.91 L622.77,51.65 L623.18,51.39 L623.60,51.13 L624.02,50.88 L624.43,50.63 L624.85,50.38 L625.26,50.13 L625.68,49.89 L626.09,49.65 L626.51,49.42 L626.93,49.19 L627.34,48.95 L627.76,48.72 L628.17,48.50 L628.59,48.27 L629.01,48.05 L629.42,47.82 L629.84,47.60 L630.25,47.38 L630.67,47.16 L631.09,46.94 L631.50,46.72 L631.92,46.50 L632.33,46.28 L632.75,46.06 L632.99,45.93 L633.16,45.83 L633.58,45.61 L634.00,45.39 L634.41,45.18 L634.83,44.96 L635.24,44.74 L635.66,44.52 L636.08,44.31 L636.49,44.10 L636.91,43.88 L637.32,43.67 L637.74,43.46 L638.16,43.25 L638.57,43.05 L638.99,42.84 L639.40,42.64 L639.82,42.43 L640.23,42.23 L640.65,42.03 L641.07,41.84 L641.48,41.64 L641.90,41.45 L642.31,41.26 L642.73,41.07 L643.15,40.89 L643.56,40.70 L643.98,40.52 L644.39,40.34 L644.81,40.17 L645.23,39.99 L645.64,39.82 L646.06,39.65 L646.47,39.49 L646.89,39.32 L647.30,39.16 L647.72,39.01 L648.14,38.85 L648.55,38.70 L648.97,38.56 L649.38,38.41 L649.80,38.27 L650.22,38.14 L650.63,38.00 L651.05,37.87 L651.06,37.87 L651.46,37.74 L651.88,37.62 L652.29,37.49 L652.71,37.36 L653.13,37.24 L653.54,37.11 L653.96,36.99 L654.37,36.87 L654.79,36.74 L655.21,36.62 L655.62,36.50 L656.04,36.38 L656.45,36.26 L656.87,36.14 L657.29,36.02 L657.70,35.90 L658.12,35.79 L658.53,35.67 L658.95,35.56 L659.36,35.45 L659.78,35.33 L660.20,35.22 L660.61,35.11 L661.03,35.00 L661.44,34.90 L661.86,34.79 L662.28,34.69 L662.69,34.58 L663.11,34.48 L663.52,34.38 L663.94,34.28 L664.36,34.18 L664.77,34.09 L665.19,33.99 L665.60,33.90 L666.02,33.81 L666.43,33.72 L666.85,33.63 L667.27,33.54 L667.68,33.46 L668.10,33.37 L668.51,33.29 L668.93,33.21 L669.35,33.13 L669.76,33.06 L670.18,32.98 L670.59,32.91 L671.01,32.84 L671.43,32.77 L671.84,32.71 L672.26,32.64 L672.67,32.58 L673.09,32.52 L673.50,32.46 L673.92,32.41 L674.34,32.35 L674.75,32.30 L675.17,32.25 L675.58,32.21 L676.00,32.16" stroke="#000" stroke-width="2.2" stroke-dasharray="1.25 1.7"/>
<path d="M52.60,-6.51 L53.02,-6.49 L53.43,-6.47 L53.85,-6.44 L54.26,-6.39 L54.68,-6.34 L55.10,-6.28 L55.51,-6.22 L55.93,-6.14 L56.34,-6.06 L56.76,-5.97 L57.17,-5.88 L57.59,-5.78 L58.01,-5.67 L58.42,-5.55 L58.84,-5.44 L59.25,-5.31 L59.67,-5.18 L60.09,-5.05 L60.50,-4.91 L60.92,-4.77 L61.33,-4.63 L61.75,-4.48 L62.17,-4.33 L62.58,-4.18 L63.00,-4.03 L63.41,-3.87 L63.83,-3.71 L64.24,-3.55 L64.66,-3.39 L65.07,-3.23 L65.08,-3.23 L65.49,-3.06 L65.91,-2.88 L66.32,-2.68 L66.74,-2.47 L67.16,-2.25 L67.57,-2.01 L67.99,-1.77 L68.40,-1.51 L68.82,-1.24 L69.24,-0.96 L69.65,-0.67 L70.07,-0.38 L70.48,-0.07 L70.90,0.25 L71.31,0.57 L71.73,0.90 L72.15,1.24 L72.56,1.58 L72.98,1.93 L73.39,2.29 L73.81,2.65 L74.23,3.01 L74.64,3.38 L75.06,3.75 L75.47,4.13 L75.89,4.51 L76.31,4.89 L76.72,5.27 L77.14,5.65 L77.55,6.04 L77.97,6.42 L78.16,6.60 L78.38,6.81 L78.80,7.21 L79.22,7.61 L79.63,8.03 L80.05,8.46 L80.46,8.90 L80.88,9.34 L81.30,9.80 L81.71,10.27 L82.13,10.74 L82.54,11.22 L82.96,11.71 L83.37,12.21 L83.79,12.71 L84.21,13.22 L84.62,13.74 L85.04,14.27 L85.45,14.79 L85.87,15.33 L86.29,15.87 L86.70,16.41 L87.12,16.96 L87.51,17.48 L87.53,17.51 L87.95,18.07 L88.37,18.64 L88.78,19.21 L89.20,19.80 L89.61,20.40 L90.03,21.00 L90.44,21.62 L90.86,22.24 L91.28,22.88 L91.69,23.53 L92.11,24.19 L92.52,24.86 L92.94,25.54 L93.36,26.23 L93.77,26.94 L94.19,27.65 L94.37,27.97 L94.60,28.39 L95.02,29.13 L95.44,29.89 L95.85,30.67 L96.27,31.47 L96.68,32.28 L97.10,33.11 L97.51,33.96 L97.93,34.83 L98.35,35.72 L98.76,36.62 L99.18,37.54 L99.59,38.49 L99.98,39.38 L100.01,39.45 L100.43,40.44 L100.84,41.45 L101.26,42.49 L101.67,43.56 L102.09,44.64 L102.51,45.75 L102.92,46.88 L103.34,48.03 L103.75,49.20 L104.17,50.38 L104.58,51.58 L105.00,52.79 L105.42,54.02 L105.83,55.25 L106.25,56.50 L106.66,57.75 L107.08,59.01 L107.50,60.28 L107.91,61.55 L108.33,62.82 L108.74,64.10 L109.02,64.94 L109.16,65.37 L109.58,66.64 L109.99,67.91 L110.41,69.17 L110.82,70.44 L111.24,71.71 L111.65,73.00 L112.07,74.29 L112.49,75.61 L112.90,76.94 L113.32,78.30 L113.73,79.68 L114.15,81.10 L114.57,82.55 L114.98,84.04 L115.40,85.57 L115.81,87.15 L116.23,88.77 L116.50,89.85 L116.65,90.46 L117.06,92.32 L117.48,94.37 L117.89,96.54 L118.31,98.81 L118.72,101.13 L119.14,103.46 L119.56,105.76 L119.97,107.98 L120.39,110.08 L120.80,112.03 L121.22,113.77 L121.49,114.76 L121.64,115.29 L122.05,116.79 L122.47,118.33 L122.88,119.87 L123.30,121.39 L123.72,122.86 L124.13,124.27 L124.55,125.58 L124.96,126.77 L125.38,127.83 L125.79,128.71 L126.21,129.41 L126.63,129.89 L127.04,130.14 L127.22,130.16 L127.46,130.14 L127.87,130.02 L128.29,129.80 L128.71,129.47 L129.12,129.06 L129.54,128.56 L129.95,127.99 L130.37,127.35 L130.78,126.65 L131.20,125.90 L131.62,125.10 L132.03,124.27 L132.45,123.41 L132.86,122.53 L133.28,121.64 L133.70,120.74 L134.11,119.84 L134.53,118.96 L134.94,118.09 L135.36,117.24 L135.78,116.43 L136.19,115.66 L136.61,114.94 L137.02,114.27 L137.13,114.10 L137.44,113.64 L137.85,113.01 L138.27,112.37 L138.69,111.72 L139.10,111.06 L139.52,110.41 L139.93,109.76 L140.35,109.11 L140.77,108.48 L141.18,107.85 L141.60,107.24 L142.01,106.64 L142.43,106.07 L142.85,105.51 L143.26,104.99 L143.68,104.49 L144.09,104.02 L144.51,103.58 L144.92,103.18 L145.17,102.96 L145.34,102.82 L145.76,102.45 L146.17,102.09 L146.59,101.72 L147.00,101.36 L147.42,101.00 L147.84,100.66 L148.25,100.34 L148.67,100.04 L149.08,99.76 L149.50,99.51 L149.92,99.29 L150.33,99.11 L150.75,98.97 L151.16,98.88 L151.58,98.83 L151.72,98.83 L151.99,98.84 L152.41,98.87 L152.83,98.93 L153.24,99.02 L153.66,99.13 L154.07,99.27 L154.49,99.43 L154.91,99.61 L155.32,99.82 L155.74,100.04 L156.15,100.29 L156.57,100.55 L156.99,100.83 L157.40,101.13 L157.82,101.45 L158.23,101.78 L158.65,102.12 L159.06,102.47 L159.48,102.84 L159.90,103.22 L160.31,103.61 L160.73,104.00 L161.14,104.41 L161.56,104.82 L161.98,105.23 L162.32,105.58 L162.39,105.66 L162.81,106.15 L163.22,106.73 L163.64,107.40 L164.06,108.14 L164.47,108.95 L164.89,109.82 L165.30,110.73 L165.72,111.69 L166.13,112.67 L166.55,113.68 L166.97,114.70 L167.38,115.73 L167.80,116.75 L168.21,117.76 L168.63,118.75 L169.05,119.71 L169.18,120.00 L169.46,120.65 L169.88,121.61 L170.29,122.60 L170.71,123.62 L171.13,124.66 L171.54,125.73 L171.96,126.81 L172.37,127.90 L172.79,129.00 L173.20,130.11 L173.62,131.23 L174.04,132.35 L174.45,133.46 L174.87,134.58 L175.28,135.68 L175.70,136.77 L176.12,137.86 L176.53,138.92 L176.95,139.97 L177.36,140.99 L177.78,141.99 L178.19,142.95 L178.61,143.89 L179.03,144.79 L179.44,145.66 L179.86,146.48 L180.27,147.27 L180.69,148.00 L181.11,148.68 L181.21,148.84 L181.52,149.34 L181.94,150.03 L182.35,150.72 L182.77,151.42 L183.19,152.09 L183.60,152.72 L184.02,153.29 L184.43,153.79 L184.85,154.21 L185.26,154.51 L185.68,154.70 L186.01,154.74 L186.10,154.74 L186.51,154.67 L186.93,154.50 L187.34,154.25 L187.76,153.93 L188.18,153.54 L188.59,153.10 L189.01,152.61 L189.42,152.08 L189.84,151.53 L190.26,150.96 L190.67,150.38 L191.09,149.81 L191.50,149.24 L191.81,148.84 L191.92,148.69 L192.33,148.12 L192.75,147.51 L193.17,146.85 L193.58,146.16 L194.00,145.44 L194.41,144.69 L194.83,143.91 L195.25,143.12 L195.66,142.30 L196.08,141.47 L196.49,140.62 L196.91,139.77 L197.33,138.91 L197.74,138.05 L198.16,137.18 L198.57,136.33 L198.99,135.48 L199.40,134.64 L199.82,133.82 L200.24,133.02 L200.53,132.46 L200.65,132.23 L201.07,131.44 L201.48,130.63 L201.90,129.80 L202.32,128.97 L202.73,128.13 L203.15,127.30 L203.56,126.46 L203.98,125.64 L204.40,124.83 L204.81,124.03 L205.23,123.26 L205.64,122.51 L206.06,121.79 L206.47,121.11 L206.89,120.46 L207.20,120.00 L207.31,119.85 L207.72,119.26 L208.14,118.68 L208.55,118.09 L208.97,117.52 L209.39,116.96 L209.80,116.40 L210.22,115.86 L210.63,115.34 L211.05,114.83 L211.47,114.33 L211.88,113.86 L212.30,113.41 L212.71,112.98 L213.13,112.57 L213.54,112.19 L213.96,111.84 L214.38,111.51 L214.79,111.22 L215.00,111.09 L215.21,110.95 L215.62,110.70 L216.04,110.46 L216.46,110.22 L216.87,109.99 L217.29,109.77 L217.70,109.55 L218.12,109.34 L218.54,109.14 L218.95,108.95 L219.37,108.77 L219.78,108.59 L220.20,108.42 L220.61,108.25 L221.03,108.10 L221.45,107.95 L221.86,107.80 L222.28,107.67 L222.69,107.54 L223.11,107.41 L223.53,107.30 L223.94,107.18 L224.36,107.08 L224.60,107.02 L224.77,106.98 L225.19,106.88 L225.60,106.78 L226.02,106.69 L226.44,106.59 L226.85,106.49 L227.27,106.40 L227.68,106.31 L228.10,106.22 L228.52,106.13 L228.93,106.05 L229.35,105.97 L229.76,105.89 L230.18,105.82 L230.60,105.75 L231.01,105.69 L231.43,105.64 L231.84,105.59 L232.26,105.55 L232.67,105.51 L233.09,105.48 L233.51,105.46 L233.92,105.45 L234.26,105.45 L234.34,105.45 L234.75,105.45 L235.17,105.46 L235.59,105.47 L236.00,105.48 L236.42,105.49 L236.83,105.51 L237.25,105.53 L237.67,105.55 L238.08,105.58 L238.50,105.60 L238.91,105.63 L239.33,105.67 L239.74,105.70 L240.16,105.74 L240.58,105.78 L240.99,105.82 L241.41,105.86 L241.82,105.90 L242.24,105.95 L242.66,105.99 L243.07,106.04 L243.49,106.09 L243.90,106.14 L244.32,106.19 L244.74,106.25 L245.15,106.30 L245.57,106.36 L245.98,106.41 L246.40,106.47 L246.81,106.52 L247.10,106.56 L247.23,106.58 L247.65,106.64 L248.06,106.71 L248.48,106.79 L248.89,106.87 L249.31,106.96 L249.73,107.06 L250.14,107.16 L250.56,107.27 L250.97,107.38 L251.39,107.50 L251.81,107.62 L252.22,107.75 L252.64,107.89 L253.05,108.03 L253.47,108.17 L253.88,108.32 L254.30,108.48 L254.72,108.64 L255.13,108.80 L255.55,108.97 L255.96,109.14 L256.38,109.32 L256.80,109.50 L257.21,109.68 L257.63,109.87 L258.04,110.06 L258.46,110.26 L258.88,110.45 L259.29,110.66 L259.71,110.86 L260.12,111.07 L260.54,111.28 L260.95,111.49 L261.37,111.70 L261.79,111.92 L262.20,112.14 L262.62,112.36 L263.03,112.58 L263.18,112.66 L263.45,112.81 L263.87,113.04 L264.28,113.29 L264.70,113.56 L265.11,113.83 L265.53,114.12 L265.95,114.41 L266.36,114.72 L266.78,115.04 L267.19,115.37 L267.61,115.71 L268.02,116.05 L268.44,116.41 L268.86,116.77 L269.27,117.15 L269.69,117.53 L270.10,117.91 L270.52,118.31 L270.94,118.71 L271.35,119.12 L271.77,119.54 L272.18,119.96 L272.60,120.39 L273.01,120.82 L273.43,121.25 L273.85,121.70 L274.26,122.14 L274.41,122.30 L274.68,122.59 L275.09,123.07 L275.51,123.56 L275.93,124.07 L276.34,124.59 L276.76,125.14 L277.17,125.69 L277.59,126.26 L278.01,126.85 L278.42,127.44 L278.84,128.05 L279.25,128.66 L279.67,129.28 L280.08,129.91 L280.50,130.55 L280.92,131.19 L281.33,131.83 L281.75,132.48 L282.16,133.13 L282.45,133.57 L282.58,133.78 L283.00,134.42 L283.41,135.05 L283.83,135.68 L284.24,136.31 L284.66,136.95 L285.08,137.60 L285.49,138.26 L285.91,138.94 L286.32,139.65 L286.74,140.39 L287.15,141.16 L287.57,141.96 L287.99,142.81 L288.40,143.71 L288.82,144.66 L288.87,144.78 L289.23,145.71 L289.65,146.91 L290.07,148.24 L290.48,149.67 L290.90,151.16 L291.31,152.69 L291.73,154.23 L292.15,155.74 L292.56,157.20 L292.61,157.36 L292.98,158.60 L293.39,159.97 L293.81,161.32 L294.22,162.68 L294.64,164.05 L295.06,165.47 L295.47,166.95 L295.89,168.50 L296.22,169.82 L296.30,170.15 L296.72,172.03 L297.14,174.11 L297.55,176.28 L297.97,178.42 L298.38,180.40 L298.80,182.11 L298.84,182.27 L299.22,183.56 L299.63,184.88 L300.05,186.10 L300.46,187.24 L300.88,188.32 L301.29,189.36 L301.71,190.38 L302.13,191.40 L302.54,192.45 L302.96,193.54 L303.37,194.68 L303.79,195.91 L303.83,196.04 L304.21,197.34 L304.62,199.04 L305.04,200.90 L305.45,202.85 L305.87,204.76 L306.29,206.55 L306.70,208.12 L307.12,209.36 L307.53,210.17 L307.94,210.46 L307.95,210.46 L308.36,210.18 L308.78,209.41 L309.20,208.22 L309.61,206.71 L310.03,204.95 L310.44,203.02 L310.86,201.00 L311.28,198.99 L311.69,197.05 L312.11,195.27 L312.25,194.73 L312.52,193.66 L312.94,192.02 L313.36,190.35 L313.77,188.64 L314.19,186.91 L314.60,185.17 L315.02,183.42 L315.43,181.68 L315.85,179.95 L316.27,178.24 L316.68,176.56 L317.10,174.91 L317.51,173.31 L317.93,171.77 L318.35,170.28 L318.48,169.82 L318.76,168.86 L319.18,167.45 L319.59,166.07 L320.01,164.70 L320.42,163.35 L320.84,162.03 L321.26,160.72 L321.67,159.43 L322.09,158.17 L322.50,156.93 L322.92,155.71 L323.34,154.51 L323.75,153.34 L324.17,152.19 L324.58,151.07 L325.00,149.97 L325.42,148.90 L325.83,147.85 L325.96,147.53 L326.25,146.83 L326.66,145.82 L327.08,144.83 L327.49,143.85 L327.91,142.89 L328.33,141.95 L328.74,141.02 L329.16,140.11 L329.57,139.22 L329.99,138.35 L330.41,137.50 L330.82,136.67 L331.24,135.86 L331.65,135.07 L332.07,134.30 L332.49,133.56 L332.90,132.84 L333.13,132.46 L333.32,132.15 L333.73,131.46 L334.15,130.80 L334.56,130.15 L334.98,129.51 L335.40,128.89 L335.81,128.28 L336.23,127.68 L336.64,127.09 L337.06,126.52 L337.48,125.96 L337.89,125.40 L338.31,124.86 L338.72,124.33 L339.14,123.81 L339.56,123.30 L339.97,122.79 L340.39,122.30 L340.80,121.81 L341.22,121.33 L341.23,121.31 L341.63,120.86 L342.05,120.39 L342.47,119.93 L342.88,119.47 L343.30,119.02 L343.71,118.57 L344.13,118.13 L344.55,117.70 L344.96,117.28 L345.38,116.86 L345.79,116.45 L346.21,116.05 L346.63,115.65 L347.04,115.27 L347.46,114.89 L347.87,114.52 L348.29,114.15 L348.70,113.80 L349.12,113.46 L349.54,113.12 L349.95,112.80 L349.96,112.79 L350.37,112.48 L350.78,112.17 L351.20,111.86 L351.62,111.56 L352.03,111.26 L352.45,110.97 L352.86,110.68 L353.28,110.39 L353.70,110.11 L354.11,109.83 L354.53,109.56 L354.94,109.29 L355.36,109.02 L355.77,108.76 L356.19,108.50 L356.61,108.25 L357.02,107.99 L357.44,107.74 L357.85,107.50 L358.27,107.25 L358.69,107.01 L359.10,106.77 L359.52,106.53 L359.93,106.30 L360.35,106.07 L360.77,105.84 L361.18,105.61 L361.60,105.38 L362.01,105.16 L362.43,104.93 L362.84,104.71 L363.26,104.49 L363.68,104.27 L364.09,104.05 L364.51,103.83 L364.92,103.61 L364.92,103.61 L365.34,103.40 L365.76,103.18 L366.17,102.96 L366.59,102.73 L367.00,102.51 L367.42,102.29 L367.83,102.06 L368.25,101.84 L368.67,101.61 L369.08,101.39 L369.50,101.17 L369.91,100.94 L370.33,100.72 L370.75,100.50 L371.16,100.28 L371.58,100.06 L371.99,99.85 L372.41,99.63 L372.83,99.42 L373.24,99.21 L373.66,99.00 L374.07,98.80 L374.49,98.60 L374.90,98.41 L375.32,98.21 L375.74,98.02 L376.15,97.84 L376.57,97.66 L376.98,97.49 L377.40,97.32 L377.82,97.15 L378.23,96.99 L378.65,96.84 L379.06,96.69 L379.48,96.55 L379.90,96.41 L380.31,96.28 L380.73,96.16 L381.14,96.05 L381.56,95.94 L381.97,95.84 L382.38,95.75 L382.39,95.75 L382.81,95.66 L383.22,95.57 L383.64,95.48 L384.05,95.39 L384.47,95.30 L384.89,95.22 L385.30,95.13 L385.72,95.05 L386.13,94.96 L386.55,94.88 L386.97,94.80 L387.38,94.72 L387.80,94.65 L388.21,94.57 L388.63,94.50 L389.04,94.43 L389.46,94.36 L389.88,94.30 L390.29,94.24 L390.71,94.18 L391.12,94.12 L391.54,94.07 L391.96,94.02 L392.37,93.98 L392.79,93.94 L393.20,93.90 L393.62,93.87 L394.04,93.85 L394.45,93.82 L394.87,93.80 L395.28,93.79 L395.70,93.78 L396.09,93.78 L396.11,93.78 L396.53,93.78 L396.95,93.79 L397.36,93.80 L397.78,93.82 L398.19,93.84 L398.61,93.86 L399.03,93.89 L399.44,93.92 L399.86,93.95 L400.27,93.99 L400.69,94.03 L401.11,94.08 L401.52,94.12 L401.94,94.17 L402.35,94.23 L402.77,94.28 L403.18,94.34 L403.60,94.41 L404.02,94.47 L404.43,94.54 L404.85,94.60 L405.26,94.67 L405.68,94.75 L406.10,94.82 L406.51,94.90 L406.93,94.98 L407.34,95.06 L407.76,95.14 L408.18,95.22 L408.59,95.30 L409.01,95.39 L409.42,95.47 L409.84,95.56 L410.25,95.64 L410.67,95.73 L411.09,95.82 L411.50,95.91 L411.92,95.99 L412.30,96.08 L412.33,96.08 L412.75,96.18 L413.17,96.28 L413.58,96.39 L414.00,96.50 L414.41,96.62 L414.83,96.75 L415.24,96.89 L415.66,97.03 L416.08,97.18 L416.49,97.33 L416.91,97.49 L417.32,97.65 L417.74,97.81 L418.16,97.98 L418.57,98.16 L418.99,98.33 L419.40,98.51 L419.82,98.69 L420.24,98.87 L420.65,99.06 L421.07,99.25 L421.48,99.43 L421.90,99.62 L422.31,99.81 L422.73,100.00 L422.90,100.07 L423.15,100.19 L423.56,100.38 L423.98,100.58 L424.39,100.78 L424.81,100.99 L425.23,101.21 L425.64,101.43 L426.06,101.65 L426.47,101.87 L426.89,102.10 L427.31,102.34 L427.72,102.57 L428.14,102.81 L428.55,103.06 L428.97,103.30 L429.38,103.55 L429.80,103.80 L430.22,104.05 L430.63,104.31 L431.05,104.57 L431.46,104.82 L431.63,104.92 L431.88,105.08 L432.30,105.35 L432.71,105.62 L433.13,105.89 L433.54,106.17 L433.96,106.45 L434.38,106.74 L434.79,107.03 L435.21,107.32 L435.62,107.62 L436.04,107.91 L436.45,108.22 L436.87,108.52 L437.29,108.82 L437.70,109.13 L438.12,109.44 L438.53,109.75 L438.95,110.06 L439.37,110.37 L439.78,110.68 L439.98,110.82 L440.20,110.99 L440.61,111.30 L441.03,111.62 L441.45,111.94 L441.86,112.27 L442.28,112.59 L442.69,112.92 L443.11,113.26 L443.52,113.59 L443.94,113.93 L444.36,114.26 L444.77,114.60 L445.19,114.94 L445.60,115.27 L446.02,115.61 L446.44,115.95 L446.85,116.29 L447.27,116.62 L447.68,116.95 L448.10,117.29 L448.52,117.61 L448.93,117.94 L449.35,118.26 L449.64,118.49 L449.76,118.59 L450.18,118.91 L450.59,119.23 L451.01,119.55 L451.43,119.87 L451.84,120.19 L452.26,120.51 L452.67,120.83 L453.09,121.15 L453.51,121.47 L453.92,121.78 L454.34,122.10 L454.75,122.41 L455.17,122.73 L455.59,123.04 L456.00,123.35 L456.42,123.65 L456.83,123.96 L457.25,124.26 L457.66,124.56 L458.08,124.85 L458.50,125.15 L458.91,125.43 L459.31,125.70 L459.33,125.72 L459.74,126.00 L460.16,126.29 L460.58,126.58 L460.99,126.87 L461.41,127.15 L461.82,127.44 L462.24,127.71 L462.65,127.99 L463.07,128.25 L463.49,128.51 L463.90,128.76 L464.32,129.00 L464.73,129.22 L465.15,129.44 L465.29,129.51 L465.57,129.64 L465.98,129.86 L466.40,130.08 L466.81,130.30 L467.23,130.52 L467.65,130.72 L468.06,130.92 L468.48,131.09 L468.89,131.24 L469.31,131.35 L469.72,131.43 L470.14,131.47 L470.28,131.47 L470.56,131.47 L470.97,131.43 L471.39,131.38 L471.80,131.30 L472.22,131.20 L472.64,131.09 L473.05,130.96 L473.47,130.82 L473.88,130.67 L474.30,130.52 L474.72,130.37 L475.13,130.21 L475.27,130.16 L475.55,130.05 L475.96,129.87 L476.38,129.67 L476.79,129.45 L477.21,129.21 L477.63,128.95 L478.04,128.68 L478.46,128.39 L478.87,128.10 L479.29,127.79 L479.63,127.54 L479.71,127.48 L480.12,127.15 L480.54,126.80 L480.95,126.42 L481.37,126.02 L481.79,125.61 L482.20,125.17 L482.62,124.72 L483.03,124.26 L483.45,123.78 L483.86,123.29 L484.28,122.78 L484.70,122.27 L485.11,121.75 L485.53,121.21 L485.94,120.68 L486.36,120.13 L486.78,119.59 L487.19,119.04 L487.61,118.49 L488.02,117.94 L488.44,117.39 L488.86,116.84 L489.27,116.29 L489.69,115.76 L490.10,115.22 L490.52,114.70 L490.93,114.18 L491.35,113.67 L491.77,113.18 L492.10,112.79 L492.18,112.69 L492.60,112.20 L493.01,111.70 L493.43,111.19 L493.85,110.66 L494.26,110.13 L494.68,109.60 L495.09,109.05 L495.51,108.51 L495.93,107.96 L496.34,107.41 L496.76,106.86 L497.17,106.32 L497.59,105.78 L498.00,105.24 L498.42,104.71 L498.84,104.20 L499.25,103.69 L499.67,103.19 L500.08,102.71 L500.50,102.24 L500.92,101.79 L501.33,101.35 L501.75,100.94 L502.16,100.54 L502.58,100.17 L503.00,99.83 L503.41,99.51 L503.83,99.21 L504.24,98.95 L504.56,98.76 L504.66,98.71 L505.07,98.49 L505.49,98.26 L505.91,98.04 L506.32,97.82 L506.74,97.60 L507.15,97.38 L507.57,97.17 L507.99,96.96 L508.40,96.75 L508.82,96.54 L509.23,96.34 L509.65,96.14 L510.06,95.95 L510.48,95.76 L510.90,95.58 L511.31,95.40 L511.73,95.22 L512.14,95.05 L512.56,94.89 L512.98,94.73 L513.39,94.57 L513.81,94.43 L514.22,94.29 L514.64,94.15 L515.06,94.03 L515.47,93.91 L515.89,93.79 L516.30,93.69 L516.72,93.59 L517.13,93.51 L517.55,93.43 L517.97,93.36 L518.38,93.29 L518.80,93.24 L519.21,93.20 L519.63,93.17 L520.05,93.14 L520.46,93.13 L520.77,93.13 L520.88,93.13 L521.29,93.14 L521.71,93.17 L522.13,93.22 L522.54,93.29 L522.96,93.37 L523.37,93.47 L523.79,93.58 L524.20,93.71 L524.62,93.85 L525.04,94.00 L525.45,94.16 L525.87,94.34 L526.28,94.52 L526.70,94.71 L527.12,94.92 L527.53,95.13 L527.95,95.35 L528.36,95.57 L528.78,95.80 L529.20,96.04 L529.61,96.28 L530.03,96.53 L530.44,96.77 L530.86,97.02 L531.27,97.28 L531.69,97.53 L531.99,97.71 L532.11,97.78 L532.52,98.06 L532.94,98.35 L533.35,98.67 L533.77,99.01 L534.19,99.37 L534.60,99.76 L535.02,100.16 L535.43,100.58 L535.85,101.02 L536.27,101.48 L536.68,101.96 L537.10,102.45 L537.51,102.96 L537.93,103.48 L538.34,104.02 L538.76,104.57 L539.18,105.14 L539.59,105.71 L540.01,106.30 L540.42,106.90 L540.84,107.51 L541.26,108.13 L541.67,108.75 L542.09,109.39 L542.50,110.03 L542.59,110.17 L542.92,110.69 L543.34,111.37 L543.75,112.10 L544.17,112.85 L544.58,113.65 L545.00,114.48 L545.41,115.36 L545.83,116.28 L546.25,117.25 L546.66,118.26 L547.08,119.33 L547.33,120.00 L547.49,120.46 L547.91,121.73 L548.33,123.14 L548.74,124.67 L549.16,126.29 L549.57,127.97 L549.99,129.68 L550.41,131.40 L550.82,133.10 L551.24,134.75 L551.32,135.08 L551.65,136.32 L552.07,137.81 L552.48,139.29 L552.90,140.84 L553.32,142.55 L553.73,144.49 L553.81,144.91 L554.15,146.73 L554.56,149.24 L554.98,152.02 L555.40,155.07 L555.81,158.38 L556.23,161.95 L556.64,165.78 L557.06,169.87 L557.47,174.21 L557.55,175.06 L557.89,179.24 L558.31,185.41 L558.72,191.93 L558.93,194.99 L559.14,198.11 L559.55,204.17 L559.97,210.24 L560.39,216.36 L560.80,222.58 L561.22,228.94 L561.29,230.13 L561.63,235.49 L562.05,242.31 L562.10,243.24 L562.47,249.17 L562.88,256.10 L563.30,263.78 L563.48,267.49 L563.71,274.51 L563.79,275.36 L564.10,267.49 L564.13,266.97 L564.54,260.48 L564.96,255.28 L565.38,250.83 L565.79,246.55 L566.09,243.24 L566.21,241.98 L566.62,237.92 L567.04,233.48 L567.28,230.13 L567.46,226.46 L567.87,213.46 L568.29,200.07 L568.53,194.99 L568.70,192.41 L569.12,186.78 L569.54,181.69 L569.95,177.08 L570.37,172.90 L570.78,169.11 L571.20,165.66 L571.61,162.49 L572.03,159.55 L572.45,156.80 L572.86,154.18 L573.28,151.64 L573.69,149.14 L574.11,146.62 L574.39,144.91 L574.53,144.04 L574.94,141.60 L575.36,139.34 L575.77,137.26 L576.19,135.37 L576.26,135.08 L576.61,133.62 L577.02,131.98 L577.44,130.44 L577.85,128.97 L578.27,127.56 L578.68,126.19 L579.10,124.86 L579.52,123.54 L579.93,122.22 L580.35,120.89 L580.62,120.00 L580.76,119.52 L581.18,118.14 L581.60,116.75 L582.01,115.36 L582.43,113.98 L582.84,112.62 L583.26,111.28 L583.68,109.99 L584.09,108.73 L584.51,107.53 L584.92,106.40 L584.98,106.24 L585.34,105.31 L585.75,104.26 L586.17,103.23 L586.59,102.22 L587.00,101.24 L587.42,100.28 L587.83,99.34 L588.25,98.42 L588.67,97.52 L589.08,96.64 L589.50,95.76 L589.91,94.91 L590.33,94.06 L590.75,93.22 L591.16,92.40 L591.58,91.58 L591.99,90.76 L592.41,89.96 L592.46,89.85 L592.82,89.15 L593.24,88.33 L593.66,87.51 L594.07,86.70 L594.49,85.90 L594.90,85.10 L595.32,84.33 L595.74,83.58 L596.15,82.86 L596.57,82.17 L596.98,81.51 L597.40,80.90 L597.82,80.34 L598.08,80.02 L598.23,79.83 L598.65,79.36 L599.06,78.92 L599.48,78.50 L599.89,78.11 L600.31,77.74 L600.73,77.38 L601.14,77.04 L601.56,76.70 L601.97,76.37 L602.39,76.04 L602.81,75.70 L603.22,75.36 L603.64,75.00 L604.05,74.63 L604.47,74.25 L604.88,73.84 L604.93,73.79 L605.30,73.40 L605.72,72.94 L606.13,72.45 L606.55,71.95 L606.96,71.42 L607.38,70.89 L607.80,70.34 L608.21,69.79 L608.63,69.23 L609.04,68.67 L609.46,68.12 L609.88,67.57 L610.29,67.03 L610.71,66.51 L611.12,66.00 L611.54,65.51 L611.95,65.04 L612.37,64.60 L612.79,64.19 L613.20,63.81 L613.62,63.46 L613.66,63.43 L614.03,63.15 L614.45,62.83 L614.87,62.53 L615.28,62.23 L615.70,61.93 L616.11,61.64 L616.53,61.36 L616.95,61.08 L617.36,60.81 L617.78,60.55 L618.19,60.28 L618.61,60.03 L619.02,59.77 L619.44,59.53 L619.86,59.28 L620.27,59.05 L620.69,58.81 L621.10,58.58 L621.52,58.35 L621.94,58.13 L622.35,57.91 L622.77,57.70 L623.18,57.49 L623.60,57.28 L624.02,57.07 L624.43,56.87 L624.85,56.67 L625.26,56.47 L625.68,56.28 L626.09,56.09 L626.51,55.90 L626.93,55.71 L627.34,55.52 L627.76,55.34 L628.17,55.16 L628.59,54.98 L629.01,54.80 L629.42,54.62 L629.84,54.45 L630.25,54.27 L630.67,54.10 L631.09,53.93 L631.50,53.75 L631.92,53.58 L632.33,53.41 L632.75,53.24 L632.99,53.14 L633.16,53.07 L633.58,52.90 L634.00,52.72 L634.41,52.55 L634.83,52.38 L635.24,52.21 L635.66,52.04 L636.08,51.87 L636.49,51.70 L636.91,51.54 L637.32,51.37 L637.74,51.20 L638.16,51.04 L638.57,50.88 L638.99,50.71 L639.40,50.55 L639.82,50.39 L640.23,50.24 L640.65,50.08 L641.07,49.93 L641.48,49.78 L641.90,49.63 L642.31,49.48 L642.73,49.33 L643.15,49.19 L643.56,49.05 L643.98,48.91 L644.39,48.77 L644.81,48.64 L645.23,48.51 L645.64,48.38 L646.06,48.26 L646.47,48.14 L646.89,48.02 L647.30,47.91 L647.72,47.80 L648.14,47.69 L648.55,47.59 L648.97,47.49 L649.38,47.39 L649.80,47.30 L650.22,47.21 L650.63,47.13 L651.05,47.05 L651.06,47.04 L651.46,46.97 L651.88,46.89 L652.29,46.82 L652.71,46.74 L653.13,46.66 L653.54,46.59 L653.96,46.51 L654.37,46.43 L654.79,46.36 L655.21,46.28 L655.62,46.21 L656.04,46.13 L656.45,46.06 L656.87,45.99 L657.29,45.91 L657.70,45.84 L658.12,45.77 L658.53,45.70 L658.95,45.63 L659.36,45.56 L659.78,45.49 L660.20,45.43 L660.61,45.36 L661.03,45.30 L661.44,45.23 L661.86,45.17 L662.28,45.11 L662.69,45.05 L663.11,44.99 L663.52,44.93 L663.94,44.87 L664.36,44.81 L664.77,44.76 L665.19,44.71 L665.60,44.66 L666.02,44.60 L666.43,44.56 L666.85,44.51 L667.27,44.46 L667.68,44.42 L668.10,44.38 L668.51,44.34 L668.93,44.30 L669.35,44.26 L669.76,44.23 L670.18,44.20 L670.59,44.16 L671.01,44.14 L671.43,44.11 L671.84,44.08 L672.26,44.06 L672.67,44.04 L673.09,44.02 L673.50,44.01 L673.92,43.99 L674.34,43.98 L674.75,43.97 L675.17,43.97 L675.58,43.96 L676.00,43.96" stroke="#0000ff" stroke-width="2.2" stroke-dasharray="6 1.95 2.4 1.95"/>
<path d="M120.81,71.79 H588.58" stroke="#ff0000" stroke-width="2.3"/>
</g>
<path d="M52.6,6.6 H676.0 V268.8 H52.6 Z M114.57,268.8 v-6 M114.57,6.6 v6 M176.94,268.8 v-6 M176.94,6.6 v6 M239.31,268.8 v-6 M239.31,6.6 v6 M301.68,268.8 v-6 M301.68,6.6 v6 M364.05,268.8 v-6 M364.05,6.6 v6 M426.42,268.8 v-6 M426.42,6.6 v6 M488.79,268.8 v-6 M488.79,6.6 v6 M551.16,268.8 v-6 M551.16,6.6 v6 M613.53,268.8 v-6 M613.53,6.6 v6 M52.6,38.79 h5.7 M676.0,38.79 h-5.7 M52.6,71.79 h5.7 M676.0,71.79 h-5.7 M52.6,104.79 h5.7 M676.0,104.79 h-5.7 M52.6,137.79 h5.7 M676.0,137.79 h-5.7 M52.6,170.79 h5.7 M676.0,170.79 h-5.7 M52.6,203.79 h5.7 M676.0,203.79 h-5.7 M52.6,236.79 h5.7 M676.0,236.79 h-5.7" stroke="#262626" stroke-width="1" fill="none"/>
<g font-family="'Liberation Serif', serif" font-size="14.7" fill="#262626">
 <text x="52.20" y="288.3" text-anchor="middle">2</text>
 <text x="114.57" y="288.3" text-anchor="middle">3</text>
 <text x="176.94" y="288.3" text-anchor="middle">4</text>
 <text x="239.31" y="288.3" text-anchor="middle">5</text>
 <text x="301.68" y="288.3" text-anchor="middle">6</text>
 <text x="364.05" y="288.3" text-anchor="middle">7</text>
 <text x="426.42" y="288.3" text-anchor="middle">8</text>
 <text x="488.79" y="288.3" text-anchor="middle">9</text>
 <text x="551.16" y="288.3" text-anchor="middle">10</text>
 <text x="613.53" y="288.3" text-anchor="middle">11</text>
 <text x="675.90" y="288.3" text-anchor="middle">12</text>
<text x="47.4" y="11.69" text-anchor="end">0</text>
<text x="47.4" y="44.69" text-anchor="end">-5</text>
<text x="47.4" y="77.69" text-anchor="end">-10</text>
<text x="47.4" y="110.69" text-anchor="end">-15</text>
<text x="47.4" y="143.69" text-anchor="end">-20</text>
<text x="47.4" y="176.69" text-anchor="end">-25</text>
<text x="47.4" y="209.69" text-anchor="end">-30</text>
<text x="47.4" y="242.69" text-anchor="end">-35</text>
<text x="47.4" y="274.70" text-anchor="end">-40</text>
</g>
<g font-family="'Liberation Serif', serif" font-size="16.1" fill="#262626">
<text x="364.6" y="308.1" text-anchor="middle">Frequency [GHz]</text>
<text transform="translate(13.2,168.65) rotate(-90)">|<tspan style="font-style:italic">S</tspan></text>
<text transform="translate(21.1,155.9) rotate(-90)" font-size="12.6">11</text>
<text transform="translate(13.2,143.2) rotate(-90)">| [dB]</text>
</g>
<rect x="146.3" y="194.6" width="88.1" height="65.6" fill="#fff" stroke="#262626" stroke-width="1"/>
<g font-family="'Liberation Serif', serif" font-size="13.25" fill="#000">
<path d="M149.6,203.10 H180.7" stroke="#000" stroke-width="2.2" fill="none"/>
<text x="182.7" y="208.20">Design 1</text>
<path d="M149.6,219.35 H180.7" stroke="#000" stroke-width="2.2" stroke-dasharray="6.2 6.1" fill="none"/>
<text x="182.7" y="224.45">Design 2</text>
<path d="M149.6,235.60 H180.7" stroke="#000" stroke-width="2.2" stroke-dasharray="1.25 1.7" fill="none"/>
<text x="182.7" y="240.70">Design 3</text>
<path d="M149.6,251.85 H180.7" stroke="#0000ff" stroke-width="2.2" stroke-dasharray="6 1.95 2.4 1.95" fill="none"/>
<text x="182.7" y="256.95">Design 4</text>
</g>
</svg>
</body></html>
